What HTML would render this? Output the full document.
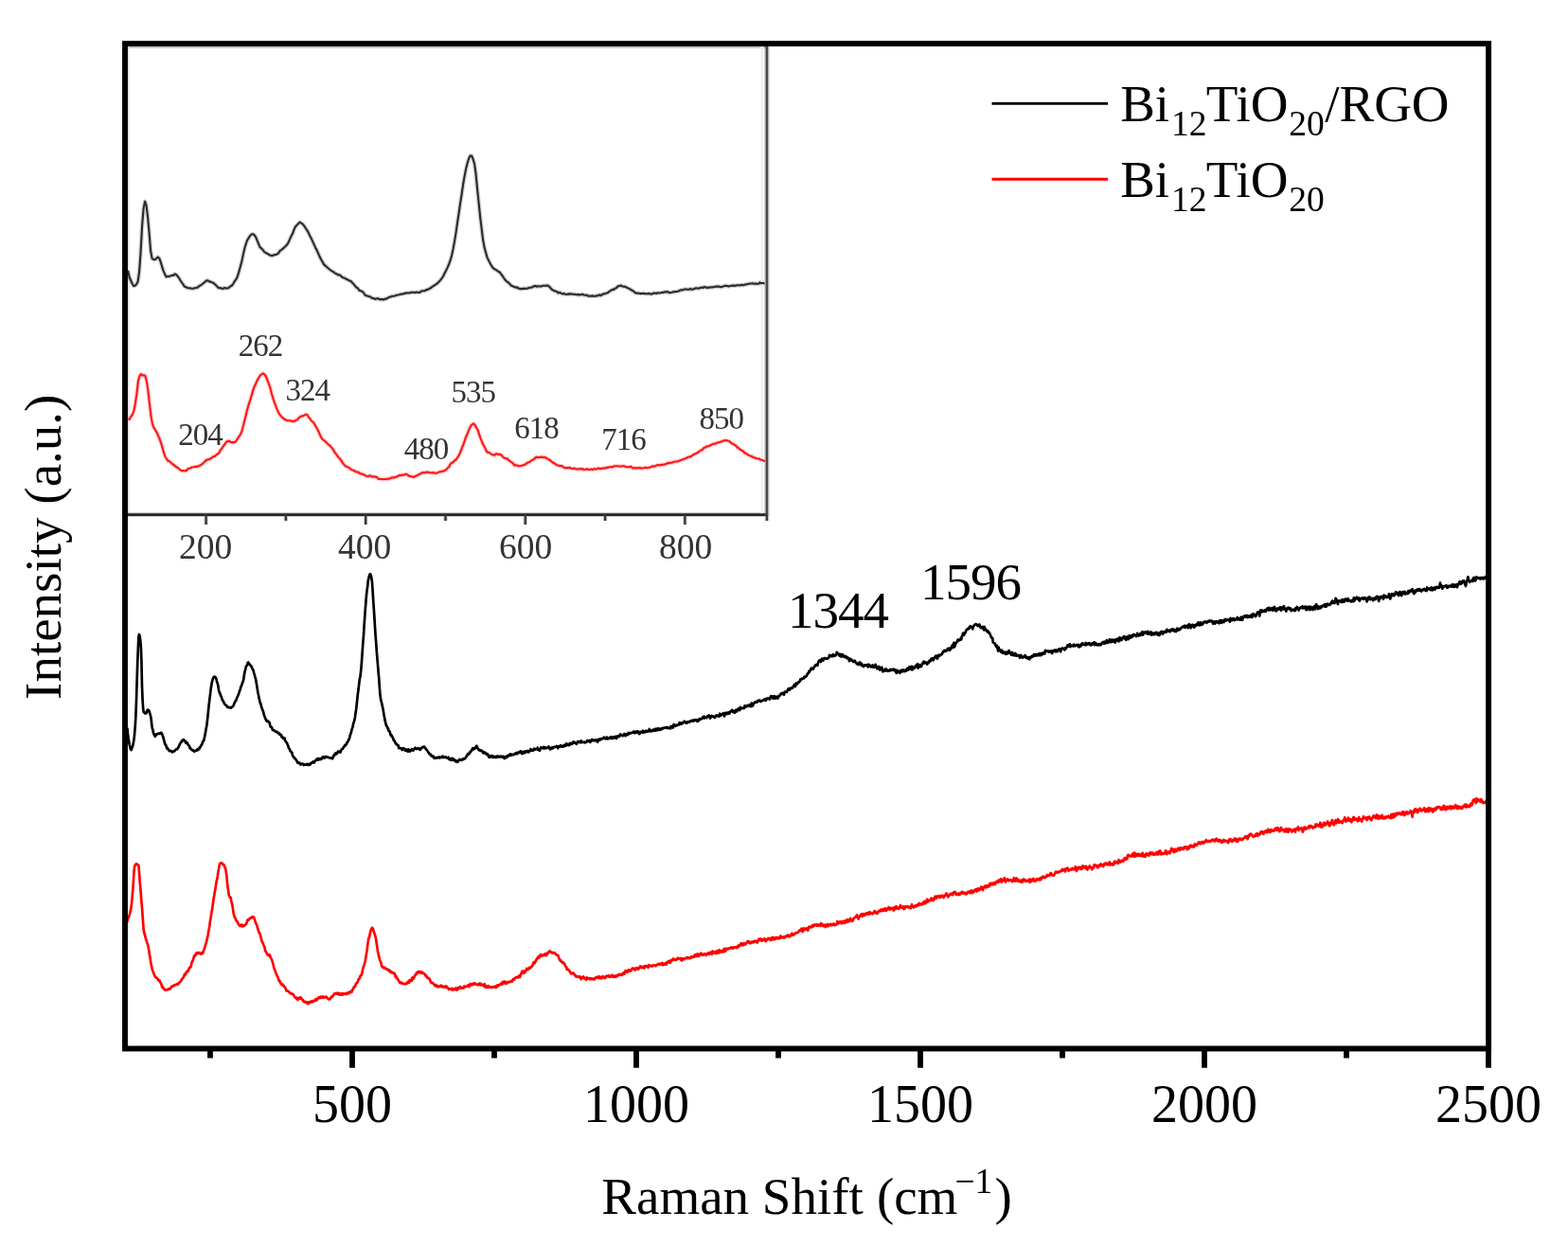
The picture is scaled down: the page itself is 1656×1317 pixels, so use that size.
<!DOCTYPE html>
<html><head><meta charset="utf-8"><title>Raman spectra</title>
<style>html,body{margin:0;padding:0;background:#fff;width:1656px;height:1317px;overflow:hidden}svg{display:block}</style>
</head><body>
<svg width="1656" height="1317" viewBox="0 0 1656 1317">
<rect width="1656" height="1317" fill="#fff"/>
<g>
<path d="M132 50.0H809" stroke="#c9c9c9" stroke-width="2.2" fill="none"/>
<path d="M135.7 46V543" stroke="#e0e0e0" stroke-width="1.6" fill="none"/>
<g fill="none" stroke-linejoin="round" opacity="0.18">
<path d="M132 543.6H810" stroke="#000" stroke-width="5"/>
<path d="M809.9 545V46" stroke="#000" stroke-width="5.6"/>
<path d="M217.6 543.6V554M386.2 543.6V554M554.8 543.6V554M723.4 543.6V554M301.9 543.6V550M470.5 543.6V550M639.1 543.6V550M809.9 543.6V550" stroke="#000" stroke-width="4.6"/>
<path d="M135.1 285.7L136.6 292.5L138.1 296.0L139.6 299.5L141.1 302.1L142.6 301.7L144.1 300.2L145.6 297.4L147.1 286.8L148.6 266.1L150.1 238.3L151.6 220.2L153.1 212.7L154.6 217.0L156.1 229.7L157.6 246.1L159.1 265.0L160.6 272.9L162.1 274.0L163.6 274.3L165.1 273.1L166.6 271.5L168.1 272.5L169.6 276.3L171.1 281.4L172.6 286.1L174.1 289.6L175.6 292.5L177.1 291.9L178.6 292.0L180.1 291.4L181.6 290.8L183.1 291.0L184.6 289.4L186.1 289.9L187.6 291.8L189.1 293.7L190.6 296.2L192.1 298.5L193.6 300.6L195.1 302.8L196.6 303.3L198.1 304.1L199.6 304.2L201.1 304.4L202.6 304.8L204.1 304.7L205.6 304.3L207.1 303.9L208.6 303.8L210.1 302.2L211.6 301.5L213.1 300.5L214.6 299.2L216.1 298.1L217.6 296.7L219.1 296.1L220.6 297.1L222.1 297.4L223.6 298.2L225.1 298.6L226.6 299.9L228.1 301.3L229.6 302.9L231.1 304.2L232.6 304.0L234.1 304.7L235.6 304.9L237.1 304.0L238.6 304.5L240.1 304.5L241.6 303.9L243.1 302.5L244.6 301.8L246.1 300.1L247.6 297.4L249.1 295.4L250.6 292.5L252.1 287.9L253.6 282.5L255.1 277.1L256.6 269.9L258.1 263.2L259.6 258.0L261.1 253.7L262.6 251.4L264.1 249.0L265.6 247.6L267.1 247.2L268.6 248.1L270.1 250.3L271.6 254.0L273.1 257.6L274.6 261.2L276.1 262.3L277.6 263.9L279.1 266.0L280.6 267.0L282.1 267.7L283.6 268.6L285.1 269.5L286.6 270.0L288.1 269.9L289.6 269.2L291.1 268.9L292.6 268.4L294.1 267.4L295.6 264.9L297.1 264.1L298.6 262.7L300.1 261.4L301.6 260.0L303.1 258.5L304.6 256.1L306.1 252.7L307.6 249.3L309.1 246.6L310.6 242.3L312.1 239.3L313.6 237.7L315.1 236.1L316.6 234.7L318.1 235.6L319.6 236.6L321.1 238.4L322.6 240.7L324.1 242.9L325.6 245.4L327.1 248.7L328.6 251.6L330.1 254.8L331.6 258.1L333.1 261.4L334.6 264.3L336.1 267.6L337.6 271.1L339.1 273.9L340.6 276.5L342.1 279.4L343.6 280.6L345.1 282.0L346.6 283.3L348.1 284.5L349.6 285.6L351.1 286.6L352.6 287.4L354.1 288.8L355.6 289.2L357.1 290.4L358.6 290.3L360.1 291.4L361.6 292.9L363.1 293.4L364.6 294.0L366.1 295.1L367.6 295.5L369.1 296.6L370.6 296.9L372.1 298.7L373.6 300.1L375.1 302.1L376.6 303.7L378.1 304.7L379.6 306.8L381.1 307.3L382.6 307.9L384.1 309.2L385.6 311.7L387.1 312.3L388.6 312.8L390.1 313.2L391.6 313.7L393.1 314.9L394.6 315.0L396.1 315.9L397.6 315.5L399.1 315.0L400.6 316.2L402.1 316.0L403.6 316.1L405.1 316.5L406.6 315.6L408.1 315.6L409.6 314.6L411.1 313.8L412.6 313.5L414.1 312.7L415.6 312.8L417.1 312.4L418.6 311.7L420.1 311.5L421.6 311.2L423.1 310.6L424.6 310.7L426.1 310.1L427.6 310.0L429.1 309.3L430.6 309.5L432.1 309.4L433.6 308.9L435.1 308.8L436.6 308.8L438.1 309.1L439.6 308.6L441.1 308.8L442.6 309.0L444.1 308.3L445.6 307.2L447.1 307.3L448.6 307.1L450.1 306.1L451.6 305.9L453.1 305.1L454.6 304.3L456.1 303.2L457.6 302.2L459.1 301.2L460.6 300.2L462.1 299.1L463.6 297.6L465.1 295.8L466.6 294.0L468.1 291.7L469.6 288.4L471.1 285.7L472.6 282.6L474.1 279.2L475.6 274.9L477.1 269.8L478.6 262.7L480.1 254.6L481.6 245.4L483.1 234.9L484.6 225.0L486.1 214.6L487.6 205.1L489.1 194.8L490.6 186.1L492.1 178.5L493.6 172.5L495.1 167.5L496.6 164.6L498.1 164.5L499.6 168.0L501.1 173.1L502.6 183.8L504.1 199.7L505.6 214.0L507.1 228.9L508.6 241.2L510.1 253.3L511.6 261.3L513.1 266.8L514.6 272.1L516.1 275.1L517.6 278.0L519.1 280.7L520.6 282.9L522.1 284.1L523.6 284.8L525.1 285.8L526.6 287.0L528.1 287.8L529.6 290.0L531.1 292.0L532.6 294.3L534.1 296.3L535.6 297.6L537.1 298.5L538.6 300.1L540.1 301.8L541.6 302.3L543.1 303.1L544.6 303.6L546.1 303.4L547.6 304.6L549.1 304.9L550.6 305.2L552.1 304.8L553.6 304.9L555.1 304.8L556.6 304.7L558.1 304.2L559.6 303.7L561.1 303.7L562.6 303.0L564.1 302.1L565.6 302.0L567.1 302.7L568.6 302.1L570.1 302.5L571.6 302.5L573.1 301.7L574.6 301.7L576.1 301.8L577.6 301.5L579.1 301.8L580.6 303.2L582.1 305.1L583.6 306.2L585.1 307.1L586.6 307.6L588.1 308.1L589.6 309.5L591.1 308.8L592.6 309.7L594.1 310.4L595.6 310.0L597.1 310.7L598.6 311.0L600.1 310.4L601.6 310.6L603.1 310.3L604.6 310.8L606.1 310.8L607.6 310.9L609.1 311.3L610.6 311.1L612.1 311.4L613.6 311.2L615.1 310.8L616.6 311.5L618.1 311.8L619.6 311.5L621.1 312.6L622.6 312.5L624.1 312.7L625.6 312.4L627.1 312.7L628.6 312.7L630.1 312.4L631.6 312.2L633.1 311.3L634.6 312.1L636.1 311.0L637.6 310.2L639.1 310.2L640.6 309.6L642.1 309.1L643.6 307.7L645.1 306.9L646.6 305.7L648.1 305.9L649.6 304.6L651.1 304.0L652.6 302.3L654.1 302.1L655.6 301.5L657.1 302.2L658.6 302.7L660.1 302.6L661.6 303.5L663.1 304.3L664.6 304.9L666.1 305.9L667.6 306.7L669.1 307.6L670.6 309.0L672.1 309.8L673.6 309.6L675.1 309.8L676.6 310.1L678.1 310.0L679.6 309.8L681.1 310.3L682.6 310.3L684.1 310.2L685.6 309.9L687.1 310.6L688.6 310.5L690.1 309.6L691.6 309.6L693.1 310.0L694.6 309.3L696.1 309.5L697.6 309.3L699.1 308.9L700.6 308.9L702.1 308.3L703.6 308.4L705.1 308.0L706.6 309.3L708.1 309.0L709.6 308.7L711.1 308.2L712.6 308.1L714.1 308.0L715.6 307.7L717.1 307.3L718.6 306.4L720.1 306.5L721.6 306.0L723.1 305.5L724.6 305.4L726.1 305.8L727.6 305.8L729.1 304.9L730.6 305.7L732.1 305.5L733.6 304.7L735.1 304.4L736.6 304.5L738.1 304.6L739.6 304.0L741.1 303.6L742.6 303.9L744.1 303.0L745.6 303.6L747.1 303.9L748.6 303.6L750.1 303.5L751.6 303.4L753.1 303.3L754.6 302.9L756.1 302.5L757.6 302.6L759.1 302.6L760.6 303.0L762.1 303.1L763.6 302.5L765.1 302.0L766.6 301.9L768.1 302.0L769.6 302.5L771.1 302.1L772.6 301.7L774.1 301.4L775.6 301.9L777.1 301.6L778.6 301.3L780.1 301.2L781.6 301.5L783.1 300.8L784.6 301.2L786.1 300.9L787.6 300.3L789.1 300.3L790.6 299.8L792.1 299.5L793.6 299.5L795.1 299.3L796.6 299.7L798.1 299.6L799.6 299.8L801.1 299.7L802.6 298.4L804.1 299.3L805.6 298.8L807.1 299.3L807.5 299.1" stroke="#000" stroke-width="4.6"/>
<path d="M135.4 442.9L136.9 442.6L138.4 439.8L139.9 437.7L141.4 434.0L142.9 425.7L144.4 416.1L145.9 402.4L147.4 397.3L148.9 395.1L150.4 396.4L151.9 396.2L153.4 397.1L154.9 402.8L156.4 412.9L157.9 426.3L159.4 438.8L160.9 447.6L162.4 451.7L163.9 453.9L165.4 456.4L166.9 459.7L168.4 463.2L169.9 467.3L171.4 472.2L172.9 477.7L174.4 482.2L175.9 484.5L177.4 486.7L178.9 487.1L180.4 488.6L181.9 490.0L183.4 490.7L184.9 492.2L186.4 493.3L187.9 494.1L189.4 495.5L190.9 496.6L192.4 497.3L193.9 497.1L195.4 497.1L196.9 497.1L198.4 495.2L199.9 494.7L201.4 494.2L202.9 493.5L204.4 493.3L205.9 492.9L207.4 492.9L208.9 492.7L210.4 491.8L211.9 491.3L213.4 490.2L214.9 488.8L216.4 487.5L217.9 485.8L219.4 485.4L220.9 485.0L222.4 484.3L223.9 483.4L225.4 482.1L226.9 482.0L228.4 480.4L229.9 479.4L231.4 478.2L232.9 475.1L234.4 473.4L235.9 471.2L237.4 469.1L238.9 466.9L240.4 466.0L241.9 465.7L243.4 466.7L244.9 467.4L246.4 467.1L247.9 467.1L249.4 465.7L250.9 463.3L252.4 461.0L253.9 458.8L255.4 455.3L256.9 449.7L258.4 443.5L259.9 437.8L261.4 431.6L262.9 426.4L264.4 422.2L265.9 417.1L267.4 411.6L268.9 407.7L270.4 404.7L271.9 401.1L273.4 398.8L274.9 396.4L276.4 395.2L277.9 394.4L279.4 395.5L280.9 397.5L282.4 401.3L283.9 405.5L285.4 409.7L286.9 415.7L288.4 420.8L289.9 425.1L291.4 429.4L292.9 433.1L294.4 436.3L295.9 438.3L297.4 440.2L298.9 441.6L300.4 442.7L301.9 443.5L303.4 444.1L304.9 444.2L306.4 444.3L307.9 444.9L309.4 444.8L310.9 444.9L312.4 443.8L313.9 443.3L315.4 441.5L316.9 440.2L318.4 439.5L319.9 439.4L321.4 438.6L322.9 437.7L324.4 438.2L325.9 440.3L327.4 442.1L328.9 444.5L330.4 445.5L331.9 447.4L333.4 450.2L334.9 452.8L336.4 455.8L337.9 459.1L339.4 462.4L340.9 463.9L342.4 465.4L343.9 466.4L345.4 468.2L346.9 469.6L348.4 470.5L349.9 472.4L351.4 474.1L352.9 476.9L354.4 478.9L355.9 480.8L357.4 482.9L358.9 484.5L360.4 486.4L361.9 488.9L363.4 490.8L364.9 492.4L366.4 492.8L367.9 493.7L369.4 494.4L370.9 495.9L372.4 496.5L373.9 496.9L375.4 498.1L376.9 498.6L378.4 498.5L379.9 499.9L381.4 500.4L382.9 500.7L384.4 501.2L385.9 502.4L387.4 502.8L388.9 503.1L390.4 502.3L391.9 502.8L393.4 503.6L394.9 503.2L396.4 503.6L397.9 503.9L399.4 505.6L400.9 505.9L402.4 506.0L403.9 506.2L405.4 506.0L406.9 506.0L408.4 506.1L409.9 505.5L411.4 505.7L412.9 504.8L414.4 504.2L415.9 504.6L417.4 503.8L418.9 503.6L420.4 502.8L421.9 501.8L423.4 502.2L424.9 501.4L426.4 501.8L427.9 500.8L429.4 500.8L430.9 502.0L432.4 502.8L433.9 503.2L435.4 503.3L436.9 504.0L438.4 503.0L439.9 502.5L441.4 501.6L442.9 500.8L444.4 500.3L445.9 499.1L447.4 499.2L448.9 499.2L450.4 498.5L451.9 498.7L453.4 499.1L454.9 499.2L456.4 499.5L457.9 498.9L459.4 499.8L460.9 499.7L462.4 499.1L463.9 498.4L465.4 498.4L466.9 497.8L468.4 497.6L469.9 496.8L471.4 495.9L472.9 494.1L474.4 492.8L475.9 489.8L477.4 488.7L478.9 487.9L480.4 486.0L481.9 485.2L483.4 482.9L484.9 480.7L486.4 477.0L487.9 473.1L489.4 469.3L490.9 465.1L492.4 460.7L493.9 457.4L495.4 453.6L496.9 450.3L498.4 448.5L499.9 447.4L501.4 448.5L502.9 451.4L504.4 453.7L505.9 458.1L507.4 462.6L508.9 466.3L510.4 469.8L511.9 472.2L513.4 475.7L514.9 477.9L516.4 477.8L517.9 479.0L519.4 480.0L520.9 480.5L522.4 480.6L523.9 479.3L525.4 479.6L526.9 479.9L528.4 479.7L529.9 481.0L531.4 482.8L532.9 483.7L534.4 484.4L535.9 484.4L537.4 486.1L538.9 487.3L540.4 488.2L541.9 489.5L543.4 491.5L544.9 491.2L546.4 491.5L547.9 492.2L549.4 492.0L550.9 491.7L552.4 491.3L553.9 490.9L555.4 490.0L556.9 488.8L558.4 488.3L559.9 487.6L561.4 486.2L562.9 485.6L564.4 484.4L565.9 482.9L567.4 482.7L568.9 483.0L570.4 482.9L571.9 482.6L573.4 483.1L574.9 483.0L576.4 483.2L577.9 484.4L579.4 485.1L580.9 486.2L582.4 487.3L583.9 488.5L585.4 489.3L586.9 490.4L588.4 491.2L589.9 491.5L591.4 492.2L592.9 491.9L594.4 492.7L595.9 494.0L597.4 494.4L598.9 494.1L600.4 494.1L601.9 493.9L603.4 494.7L604.9 495.0L606.4 494.5L607.9 495.2L609.4 495.4L610.9 495.5L612.4 495.1L613.9 495.6L615.4 495.1L616.9 496.1L618.4 495.7L619.9 495.2L621.4 496.0L622.9 496.0L624.4 495.4L625.9 496.1L627.4 495.1L628.9 495.4L630.4 495.5L631.9 494.3L633.4 495.2L634.9 494.9L636.4 494.7L637.9 494.3L639.4 494.5L640.9 493.9L642.4 493.6L643.9 493.5L645.4 493.0L646.9 493.5L648.4 492.3L649.9 492.2L651.4 492.2L652.9 492.2L654.4 492.5L655.9 492.6L657.4 492.3L658.9 492.3L660.4 492.7L661.9 493.2L663.4 493.3L664.9 493.0L666.4 492.8L667.9 494.4L669.4 494.4L670.9 494.3L672.4 494.4L673.9 494.2L675.4 494.1L676.9 494.4L678.4 494.5L679.9 494.2L681.4 493.8L682.9 494.1L684.4 494.2L685.9 493.6L687.4 493.3L688.9 492.3L690.4 492.6L691.9 492.3L693.4 491.6L694.9 491.1L696.4 491.5L697.9 490.9L699.4 491.0L700.9 490.5L702.4 490.4L703.9 489.7L705.4 489.0L706.9 489.1L708.4 488.7L709.9 488.6L711.4 487.9L712.9 487.5L714.4 487.5L715.9 487.2L717.4 486.6L718.9 486.1L720.4 485.4L721.9 485.0L723.4 484.4L724.9 483.7L726.4 482.9L727.9 482.4L729.4 482.5L730.9 481.1L732.4 480.2L733.9 479.4L735.4 478.8L736.9 478.0L738.4 476.7L739.9 475.5L741.4 475.2L742.9 473.5L744.4 472.8L745.9 471.7L747.4 471.4L748.9 471.0L750.4 470.2L751.9 469.4L753.4 468.8L754.9 468.6L756.4 468.4L757.9 467.2L759.4 467.2L760.9 466.6L762.4 466.3L763.9 465.5L765.4 465.3L766.9 465.1L768.4 465.5L769.9 465.7L771.4 467.1L772.9 468.4L774.4 469.0L775.9 470.0L777.4 470.9L778.9 472.8L780.4 473.4L781.9 474.9L783.4 475.7L784.9 476.5L786.4 478.2L787.9 479.0L789.4 480.0L790.9 480.9L792.4 481.5L793.9 482.0L795.4 482.9L796.9 483.3L798.4 484.0L799.9 484.3L801.4 484.5L802.9 485.2L804.4 485.7L805.9 486.3L807.4 486.8L807.5 485.9" stroke="#ff0000" stroke-width="4.6"/>
</g>
<path d="M804.8 46V543" stroke="#efefef" stroke-width="2.6" fill="none"/>
<path d="M132 543.6H810" fill="none" stroke="#262626" stroke-width="2.6"/>
<path d="M809.9 545V46" fill="none" stroke="#4a4a4a" stroke-width="2.6"/>
<path d="M217.6 543.6V554M386.2 543.6V554M554.8 543.6V554M723.4 543.6V554M301.9 543.6V550M470.5 543.6V550M639.1 543.6V550M809.9 543.6V550" stroke="#3a3a3a" stroke-width="2.4" fill="none"/>
<path d="M135.1 285.7L136.6 292.5L138.1 296.0L139.6 299.5L141.1 302.1L142.6 301.7L144.1 300.2L145.6 297.4L147.1 286.8L148.6 266.1L150.1 238.3L151.6 220.2L153.1 212.7L154.6 217.0L156.1 229.7L157.6 246.1L159.1 265.0L160.6 272.9L162.1 274.0L163.6 274.3L165.1 273.1L166.6 271.5L168.1 272.5L169.6 276.3L171.1 281.4L172.6 286.1L174.1 289.6L175.6 292.5L177.1 291.9L178.6 292.0L180.1 291.4L181.6 290.8L183.1 291.0L184.6 289.4L186.1 289.9L187.6 291.8L189.1 293.7L190.6 296.2L192.1 298.5L193.6 300.6L195.1 302.8L196.6 303.3L198.1 304.1L199.6 304.2L201.1 304.4L202.6 304.8L204.1 304.7L205.6 304.3L207.1 303.9L208.6 303.8L210.1 302.2L211.6 301.5L213.1 300.5L214.6 299.2L216.1 298.1L217.6 296.7L219.1 296.1L220.6 297.1L222.1 297.4L223.6 298.2L225.1 298.6L226.6 299.9L228.1 301.3L229.6 302.9L231.1 304.2L232.6 304.0L234.1 304.7L235.6 304.9L237.1 304.0L238.6 304.5L240.1 304.5L241.6 303.9L243.1 302.5L244.6 301.8L246.1 300.1L247.6 297.4L249.1 295.4L250.6 292.5L252.1 287.9L253.6 282.5L255.1 277.1L256.6 269.9L258.1 263.2L259.6 258.0L261.1 253.7L262.6 251.4L264.1 249.0L265.6 247.6L267.1 247.2L268.6 248.1L270.1 250.3L271.6 254.0L273.1 257.6L274.6 261.2L276.1 262.3L277.6 263.9L279.1 266.0L280.6 267.0L282.1 267.7L283.6 268.6L285.1 269.5L286.6 270.0L288.1 269.9L289.6 269.2L291.1 268.9L292.6 268.4L294.1 267.4L295.6 264.9L297.1 264.1L298.6 262.7L300.1 261.4L301.6 260.0L303.1 258.5L304.6 256.1L306.1 252.7L307.6 249.3L309.1 246.6L310.6 242.3L312.1 239.3L313.6 237.7L315.1 236.1L316.6 234.7L318.1 235.6L319.6 236.6L321.1 238.4L322.6 240.7L324.1 242.9L325.6 245.4L327.1 248.7L328.6 251.6L330.1 254.8L331.6 258.1L333.1 261.4L334.6 264.3L336.1 267.6L337.6 271.1L339.1 273.9L340.6 276.5L342.1 279.4L343.6 280.6L345.1 282.0L346.6 283.3L348.1 284.5L349.6 285.6L351.1 286.6L352.6 287.4L354.1 288.8L355.6 289.2L357.1 290.4L358.6 290.3L360.1 291.4L361.6 292.9L363.1 293.4L364.6 294.0L366.1 295.1L367.6 295.5L369.1 296.6L370.6 296.9L372.1 298.7L373.6 300.1L375.1 302.1L376.6 303.7L378.1 304.7L379.6 306.8L381.1 307.3L382.6 307.9L384.1 309.2L385.6 311.7L387.1 312.3L388.6 312.8L390.1 313.2L391.6 313.7L393.1 314.9L394.6 315.0L396.1 315.9L397.6 315.5L399.1 315.0L400.6 316.2L402.1 316.0L403.6 316.1L405.1 316.5L406.6 315.6L408.1 315.6L409.6 314.6L411.1 313.8L412.6 313.5L414.1 312.7L415.6 312.8L417.1 312.4L418.6 311.7L420.1 311.5L421.6 311.2L423.1 310.6L424.6 310.7L426.1 310.1L427.6 310.0L429.1 309.3L430.6 309.5L432.1 309.4L433.6 308.9L435.1 308.8L436.6 308.8L438.1 309.1L439.6 308.6L441.1 308.8L442.6 309.0L444.1 308.3L445.6 307.2L447.1 307.3L448.6 307.1L450.1 306.1L451.6 305.9L453.1 305.1L454.6 304.3L456.1 303.2L457.6 302.2L459.1 301.2L460.6 300.2L462.1 299.1L463.6 297.6L465.1 295.8L466.6 294.0L468.1 291.7L469.6 288.4L471.1 285.7L472.6 282.6L474.1 279.2L475.6 274.9L477.1 269.8L478.6 262.7L480.1 254.6L481.6 245.4L483.1 234.9L484.6 225.0L486.1 214.6L487.6 205.1L489.1 194.8L490.6 186.1L492.1 178.5L493.6 172.5L495.1 167.5L496.6 164.6L498.1 164.5L499.6 168.0L501.1 173.1L502.6 183.8L504.1 199.7L505.6 214.0L507.1 228.9L508.6 241.2L510.1 253.3L511.6 261.3L513.1 266.8L514.6 272.1L516.1 275.1L517.6 278.0L519.1 280.7L520.6 282.9L522.1 284.1L523.6 284.8L525.1 285.8L526.6 287.0L528.1 287.8L529.6 290.0L531.1 292.0L532.6 294.3L534.1 296.3L535.6 297.6L537.1 298.5L538.6 300.1L540.1 301.8L541.6 302.3L543.1 303.1L544.6 303.6L546.1 303.4L547.6 304.6L549.1 304.9L550.6 305.2L552.1 304.8L553.6 304.9L555.1 304.8L556.6 304.7L558.1 304.2L559.6 303.7L561.1 303.7L562.6 303.0L564.1 302.1L565.6 302.0L567.1 302.7L568.6 302.1L570.1 302.5L571.6 302.5L573.1 301.7L574.6 301.7L576.1 301.8L577.6 301.5L579.1 301.8L580.6 303.2L582.1 305.1L583.6 306.2L585.1 307.1L586.6 307.6L588.1 308.1L589.6 309.5L591.1 308.8L592.6 309.7L594.1 310.4L595.6 310.0L597.1 310.7L598.6 311.0L600.1 310.4L601.6 310.6L603.1 310.3L604.6 310.8L606.1 310.8L607.6 310.9L609.1 311.3L610.6 311.1L612.1 311.4L613.6 311.2L615.1 310.8L616.6 311.5L618.1 311.8L619.6 311.5L621.1 312.6L622.6 312.5L624.1 312.7L625.6 312.4L627.1 312.7L628.6 312.7L630.1 312.4L631.6 312.2L633.1 311.3L634.6 312.1L636.1 311.0L637.6 310.2L639.1 310.2L640.6 309.6L642.1 309.1L643.6 307.7L645.1 306.9L646.6 305.7L648.1 305.9L649.6 304.6L651.1 304.0L652.6 302.3L654.1 302.1L655.6 301.5L657.1 302.2L658.6 302.7L660.1 302.6L661.6 303.5L663.1 304.3L664.6 304.9L666.1 305.9L667.6 306.7L669.1 307.6L670.6 309.0L672.1 309.8L673.6 309.6L675.1 309.8L676.6 310.1L678.1 310.0L679.6 309.8L681.1 310.3L682.6 310.3L684.1 310.2L685.6 309.9L687.1 310.6L688.6 310.5L690.1 309.6L691.6 309.6L693.1 310.0L694.6 309.3L696.1 309.5L697.6 309.3L699.1 308.9L700.6 308.9L702.1 308.3L703.6 308.4L705.1 308.0L706.6 309.3L708.1 309.0L709.6 308.7L711.1 308.2L712.6 308.1L714.1 308.0L715.6 307.7L717.1 307.3L718.6 306.4L720.1 306.5L721.6 306.0L723.1 305.5L724.6 305.4L726.1 305.8L727.6 305.8L729.1 304.9L730.6 305.7L732.1 305.5L733.6 304.7L735.1 304.4L736.6 304.5L738.1 304.6L739.6 304.0L741.1 303.6L742.6 303.9L744.1 303.0L745.6 303.6L747.1 303.9L748.6 303.6L750.1 303.5L751.6 303.4L753.1 303.3L754.6 302.9L756.1 302.5L757.6 302.6L759.1 302.6L760.6 303.0L762.1 303.1L763.6 302.5L765.1 302.0L766.6 301.9L768.1 302.0L769.6 302.5L771.1 302.1L772.6 301.7L774.1 301.4L775.6 301.9L777.1 301.6L778.6 301.3L780.1 301.2L781.6 301.5L783.1 300.8L784.6 301.2L786.1 300.9L787.6 300.3L789.1 300.3L790.6 299.8L792.1 299.5L793.6 299.5L795.1 299.3L796.6 299.7L798.1 299.6L799.6 299.8L801.1 299.7L802.6 298.4L804.1 299.3L805.6 298.8L807.1 299.3L807.5 299.1" fill="none" stroke="#2a2a2a" stroke-width="2.1" stroke-linejoin="round"/>
<path d="M135.4 442.9L136.9 442.6L138.4 439.8L139.9 437.7L141.4 434.0L142.9 425.7L144.4 416.1L145.9 402.4L147.4 397.3L148.9 395.1L150.4 396.4L151.9 396.2L153.4 397.1L154.9 402.8L156.4 412.9L157.9 426.3L159.4 438.8L160.9 447.6L162.4 451.7L163.9 453.9L165.4 456.4L166.9 459.7L168.4 463.2L169.9 467.3L171.4 472.2L172.9 477.7L174.4 482.2L175.9 484.5L177.4 486.7L178.9 487.1L180.4 488.6L181.9 490.0L183.4 490.7L184.9 492.2L186.4 493.3L187.9 494.1L189.4 495.5L190.9 496.6L192.4 497.3L193.9 497.1L195.4 497.1L196.9 497.1L198.4 495.2L199.9 494.7L201.4 494.2L202.9 493.5L204.4 493.3L205.9 492.9L207.4 492.9L208.9 492.7L210.4 491.8L211.9 491.3L213.4 490.2L214.9 488.8L216.4 487.5L217.9 485.8L219.4 485.4L220.9 485.0L222.4 484.3L223.9 483.4L225.4 482.1L226.9 482.0L228.4 480.4L229.9 479.4L231.4 478.2L232.9 475.1L234.4 473.4L235.9 471.2L237.4 469.1L238.9 466.9L240.4 466.0L241.9 465.7L243.4 466.7L244.9 467.4L246.4 467.1L247.9 467.1L249.4 465.7L250.9 463.3L252.4 461.0L253.9 458.8L255.4 455.3L256.9 449.7L258.4 443.5L259.9 437.8L261.4 431.6L262.9 426.4L264.4 422.2L265.9 417.1L267.4 411.6L268.9 407.7L270.4 404.7L271.9 401.1L273.4 398.8L274.9 396.4L276.4 395.2L277.9 394.4L279.4 395.5L280.9 397.5L282.4 401.3L283.9 405.5L285.4 409.7L286.9 415.7L288.4 420.8L289.9 425.1L291.4 429.4L292.9 433.1L294.4 436.3L295.9 438.3L297.4 440.2L298.9 441.6L300.4 442.7L301.9 443.5L303.4 444.1L304.9 444.2L306.4 444.3L307.9 444.9L309.4 444.8L310.9 444.9L312.4 443.8L313.9 443.3L315.4 441.5L316.9 440.2L318.4 439.5L319.9 439.4L321.4 438.6L322.9 437.7L324.4 438.2L325.9 440.3L327.4 442.1L328.9 444.5L330.4 445.5L331.9 447.4L333.4 450.2L334.9 452.8L336.4 455.8L337.9 459.1L339.4 462.4L340.9 463.9L342.4 465.4L343.9 466.4L345.4 468.2L346.9 469.6L348.4 470.5L349.9 472.4L351.4 474.1L352.9 476.9L354.4 478.9L355.9 480.8L357.4 482.9L358.9 484.5L360.4 486.4L361.9 488.9L363.4 490.8L364.9 492.4L366.4 492.8L367.9 493.7L369.4 494.4L370.9 495.9L372.4 496.5L373.9 496.9L375.4 498.1L376.9 498.6L378.4 498.5L379.9 499.9L381.4 500.4L382.9 500.7L384.4 501.2L385.9 502.4L387.4 502.8L388.9 503.1L390.4 502.3L391.9 502.8L393.4 503.6L394.9 503.2L396.4 503.6L397.9 503.9L399.4 505.6L400.9 505.9L402.4 506.0L403.9 506.2L405.4 506.0L406.9 506.0L408.4 506.1L409.9 505.5L411.4 505.7L412.9 504.8L414.4 504.2L415.9 504.6L417.4 503.8L418.9 503.6L420.4 502.8L421.9 501.8L423.4 502.2L424.9 501.4L426.4 501.8L427.9 500.8L429.4 500.8L430.9 502.0L432.4 502.8L433.9 503.2L435.4 503.3L436.9 504.0L438.4 503.0L439.9 502.5L441.4 501.6L442.9 500.8L444.4 500.3L445.9 499.1L447.4 499.2L448.9 499.2L450.4 498.5L451.9 498.7L453.4 499.1L454.9 499.2L456.4 499.5L457.9 498.9L459.4 499.8L460.9 499.7L462.4 499.1L463.9 498.4L465.4 498.4L466.9 497.8L468.4 497.6L469.9 496.8L471.4 495.9L472.9 494.1L474.4 492.8L475.9 489.8L477.4 488.7L478.9 487.9L480.4 486.0L481.9 485.2L483.4 482.9L484.9 480.7L486.4 477.0L487.9 473.1L489.4 469.3L490.9 465.1L492.4 460.7L493.9 457.4L495.4 453.6L496.9 450.3L498.4 448.5L499.9 447.4L501.4 448.5L502.9 451.4L504.4 453.7L505.9 458.1L507.4 462.6L508.9 466.3L510.4 469.8L511.9 472.2L513.4 475.7L514.9 477.9L516.4 477.8L517.9 479.0L519.4 480.0L520.9 480.5L522.4 480.6L523.9 479.3L525.4 479.6L526.9 479.9L528.4 479.7L529.9 481.0L531.4 482.8L532.9 483.7L534.4 484.4L535.9 484.4L537.4 486.1L538.9 487.3L540.4 488.2L541.9 489.5L543.4 491.5L544.9 491.2L546.4 491.5L547.9 492.2L549.4 492.0L550.9 491.7L552.4 491.3L553.9 490.9L555.4 490.0L556.9 488.8L558.4 488.3L559.9 487.6L561.4 486.2L562.9 485.6L564.4 484.4L565.9 482.9L567.4 482.7L568.9 483.0L570.4 482.9L571.9 482.6L573.4 483.1L574.9 483.0L576.4 483.2L577.9 484.4L579.4 485.1L580.9 486.2L582.4 487.3L583.9 488.5L585.4 489.3L586.9 490.4L588.4 491.2L589.9 491.5L591.4 492.2L592.9 491.9L594.4 492.7L595.9 494.0L597.4 494.4L598.9 494.1L600.4 494.1L601.9 493.9L603.4 494.7L604.9 495.0L606.4 494.5L607.9 495.2L609.4 495.4L610.9 495.5L612.4 495.1L613.9 495.6L615.4 495.1L616.9 496.1L618.4 495.7L619.9 495.2L621.4 496.0L622.9 496.0L624.4 495.4L625.9 496.1L627.4 495.1L628.9 495.4L630.4 495.5L631.9 494.3L633.4 495.2L634.9 494.9L636.4 494.7L637.9 494.3L639.4 494.5L640.9 493.9L642.4 493.6L643.9 493.5L645.4 493.0L646.9 493.5L648.4 492.3L649.9 492.2L651.4 492.2L652.9 492.2L654.4 492.5L655.9 492.6L657.4 492.3L658.9 492.3L660.4 492.7L661.9 493.2L663.4 493.3L664.9 493.0L666.4 492.8L667.9 494.4L669.4 494.4L670.9 494.3L672.4 494.4L673.9 494.2L675.4 494.1L676.9 494.4L678.4 494.5L679.9 494.2L681.4 493.8L682.9 494.1L684.4 494.2L685.9 493.6L687.4 493.3L688.9 492.3L690.4 492.6L691.9 492.3L693.4 491.6L694.9 491.1L696.4 491.5L697.9 490.9L699.4 491.0L700.9 490.5L702.4 490.4L703.9 489.7L705.4 489.0L706.9 489.1L708.4 488.7L709.9 488.6L711.4 487.9L712.9 487.5L714.4 487.5L715.9 487.2L717.4 486.6L718.9 486.1L720.4 485.4L721.9 485.0L723.4 484.4L724.9 483.7L726.4 482.9L727.9 482.4L729.4 482.5L730.9 481.1L732.4 480.2L733.9 479.4L735.4 478.8L736.9 478.0L738.4 476.7L739.9 475.5L741.4 475.2L742.9 473.5L744.4 472.8L745.9 471.7L747.4 471.4L748.9 471.0L750.4 470.2L751.9 469.4L753.4 468.8L754.9 468.6L756.4 468.4L757.9 467.2L759.4 467.2L760.9 466.6L762.4 466.3L763.9 465.5L765.4 465.3L766.9 465.1L768.4 465.5L769.9 465.7L771.4 467.1L772.9 468.4L774.4 469.0L775.9 470.0L777.4 470.9L778.9 472.8L780.4 473.4L781.9 474.9L783.4 475.7L784.9 476.5L786.4 478.2L787.9 479.0L789.4 480.0L790.9 480.9L792.4 481.5L793.9 482.0L795.4 482.9L796.9 483.3L798.4 484.0L799.9 484.3L801.4 484.5L802.9 485.2L804.4 485.7L805.9 486.3L807.4 486.8L807.5 485.9" fill="none" stroke="#ff1414" stroke-width="2.1" stroke-linejoin="round"/>
<g style="font-family:'Liberation Serif','Times New Roman',serif;font-size:37.5px" fill="#333" text-anchor="middle">
<text x="217.2" y="589.6">200</text>
<text x="385.2" y="589.6">400</text>
<text x="555.0" y="589.6">600</text>
<text x="724.1" y="589.6">800</text>
</g>
<g style="font-family:'Liberation Serif','Times New Roman',serif;font-size:33px;letter-spacing:-1px" fill="#333" text-anchor="middle">
<text x="274.9" y="375.8">262</text>
<text x="324.8" y="423.2">324</text>
<text x="211.4" y="470.0">204</text>
<text x="450.1" y="484.6">480</text>
<text x="499.7" y="425.4">535</text>
<text x="566.6" y="463.3">618</text>
<text x="658.6" y="475.4">716</text>
<text x="761.8" y="452.8">850</text>
</g>
</g>
<path d="M134.4 768.6L135.0 774.7L135.6 779.5L136.2 783.4L136.8 786.8L137.4 789.0L138.0 791.0L138.6 792.1L139.2 790.6L139.8 788.9L140.4 787.0L141.0 783.9L141.6 780.1L142.2 774.5L142.8 766.5L143.4 756.2L144.0 740.3L144.6 720.2L145.2 700.7L145.8 685.6L146.4 672.4L147.0 670.0L147.6 671.7L148.2 676.5L148.8 682.5L149.4 697.2L150.0 724.8L150.6 739.4L151.2 748.8L151.8 752.3L152.4 752.3L153.0 753.3L153.6 753.4L154.2 753.4L154.8 752.9L155.4 750.4L156.0 749.6L156.6 750.1L157.2 750.3L157.8 751.8L158.4 753.8L159.0 755.8L159.6 758.9L160.2 764.6L160.8 769.2L161.4 770.6L162.0 774.0L162.6 775.6L163.2 776.5L163.8 777.8L164.4 776.9L165.0 775.4L165.6 775.4L166.2 775.3L166.8 774.8L167.4 775.0L168.0 774.5L168.6 774.7L169.2 774.9L169.8 773.9L170.4 774.1L171.0 774.6L171.6 776.4L172.2 777.9L172.8 780.3L173.4 782.6L174.0 784.8L174.6 786.5L175.2 786.9L175.8 788.6L176.4 790.5L177.0 790.2L177.6 791.3L178.2 792.1L178.8 793.2L179.4 793.2L180.0 792.9L180.6 793.1L181.2 793.4L181.8 794.4L182.4 793.5L183.0 793.5L183.6 793.7L184.2 793.2L184.8 792.7L185.4 791.8L186.0 791.7L186.6 791.0L187.2 791.2L187.8 790.3L188.4 789.2L189.0 788.2L189.6 786.4L190.2 785.7L190.8 784.3L191.4 783.9L192.0 782.5L192.6 782.7L193.2 781.4L193.8 781.1L194.4 782.0L195.0 782.1L195.6 783.1L196.2 784.6L196.8 783.7L197.4 784.3L198.0 785.6L198.6 786.5L199.2 786.9L199.8 787.8L200.4 789.5L201.0 790.6L201.6 790.7L202.2 791.6L202.8 792.1L203.4 792.0L204.0 792.9L204.6 792.7L205.2 793.7L205.8 793.4L206.4 793.1L207.0 792.7L207.6 792.6L208.2 791.5L208.8 791.7L209.4 792.1L210.0 790.4L210.6 790.8L211.2 788.8L211.8 788.8L212.4 787.2L213.0 786.9L213.6 785.3L214.2 783.2L214.8 783.1L215.4 781.6L216.0 778.7L216.6 775.8L217.2 772.6L217.8 768.8L218.4 765.9L219.0 760.4L219.6 755.0L220.2 748.9L220.8 743.4L221.4 738.1L222.0 733.8L222.6 728.1L223.2 724.2L223.8 720.9L224.4 718.3L225.0 716.6L225.6 715.2L226.2 714.8L226.8 714.7L227.4 715.4L228.0 715.9L228.6 717.7L229.2 720.5L229.8 721.7L230.4 724.5L231.0 728.5L231.6 731.3L232.2 731.8L232.8 733.9L233.4 735.3L234.0 736.2L234.6 738.8L235.2 739.8L235.8 740.8L236.4 741.6L237.0 743.2L237.6 743.7L238.2 744.6L238.8 744.8L239.4 745.3L240.0 746.9L240.6 746.5L241.2 747.1L241.8 747.2L242.4 747.1L243.0 747.3L243.6 747.9L244.2 747.3L244.8 746.9L245.4 746.4L246.0 746.1L246.6 744.9L247.2 743.6L247.8 742.0L248.4 740.5L249.0 740.4L249.6 739.0L250.2 736.9L250.8 735.8L251.4 734.5L252.0 733.0L252.6 731.4L253.2 729.1L253.8 728.3L254.4 725.3L255.0 724.4L255.6 722.5L256.2 720.7L256.8 719.2L257.4 716.6L258.0 712.3L258.6 708.9L259.2 707.3L259.8 704.1L260.4 703.3L261.0 702.6L261.6 700.3L262.2 699.5L262.8 700.9L263.4 701.3L264.0 701.9L264.6 703.0L265.2 703.5L265.8 704.2L266.4 706.0L267.0 706.9L267.6 708.1L268.2 710.9L268.8 712.6L269.4 714.8L270.0 716.8L270.6 720.2L271.2 723.7L271.8 727.6L272.4 731.5L273.0 734.0L273.6 737.2L274.2 739.8L274.8 742.8L275.4 743.2L276.0 746.3L276.6 747.9L277.2 749.7L277.8 750.8L278.4 753.2L279.0 755.7L279.6 757.0L280.2 758.6L280.8 759.8L281.4 761.6L282.0 761.7L282.6 761.1L283.2 762.4L283.8 762.4L284.4 762.5L285.0 765.0L285.6 767.3L286.2 767.7L286.8 768.0L287.4 769.1L288.0 771.0L288.6 771.1L289.2 771.3L289.8 771.6L290.4 772.0L291.0 772.8L291.6 773.0L292.2 773.1L292.8 772.8L293.4 774.0L294.0 774.0L294.6 775.3L295.2 774.6L295.8 775.6L296.4 776.2L297.0 776.2L297.6 778.5L298.2 779.1L298.8 778.7L299.4 780.1L300.0 780.5L300.6 779.7L301.2 782.1L301.8 783.1L302.4 784.1L303.0 784.5L303.6 786.1L304.2 787.6L304.8 789.7L305.4 790.5L306.0 791.5L306.6 793.4L307.2 793.5L307.8 794.4L308.4 794.9L309.0 797.9L309.6 798.8L310.2 799.7L310.8 800.4L311.4 800.9L312.0 801.8L312.6 802.3L313.2 803.2L313.8 804.2L314.4 805.7L315.0 805.8L315.6 805.7L316.2 805.6L316.8 806.0L317.4 807.4L318.0 807.1L318.6 806.9L319.2 806.7L319.8 806.5L320.4 807.3L321.0 808.0L321.6 807.4L322.2 807.5L322.8 807.6L323.4 807.7L324.0 806.8L324.6 807.5L325.2 807.2L325.8 808.0L326.4 806.9L327.0 807.4L327.6 807.7L328.2 806.2L328.8 805.6L329.4 805.7L330.0 805.3L330.6 804.4L331.2 805.0L331.8 805.6L332.4 804.0L333.0 803.4L333.6 802.6L334.2 802.8L334.8 801.6L335.4 801.4L336.0 802.5L336.6 801.2L337.2 802.1L337.8 802.2L338.4 801.2L339.0 801.2L339.6 801.8L340.2 800.3L340.8 799.7L341.4 799.1L342.0 799.9L342.6 800.7L343.2 800.3L343.8 799.0L344.4 799.0L345.0 799.3L345.6 799.9L346.2 799.8L346.8 800.1L347.4 800.3L348.0 800.1L348.6 800.4L349.2 800.6L349.8 800.5L350.4 800.8L351.0 801.3L351.6 800.1L352.2 799.0L352.8 797.3L353.4 797.6L354.0 795.7L354.6 795.4L355.2 796.4L355.8 796.0L356.4 794.9L357.0 793.6L357.6 794.0L358.2 793.7L358.8 794.2L359.4 794.8L360.0 793.1L360.6 791.8L361.2 791.0L361.8 791.0L362.4 790.1L363.0 788.7L363.6 788.4L364.2 786.9L364.8 787.4L365.4 786.6L366.0 785.7L366.6 784.0L367.2 783.6L367.8 782.4L368.4 781.1L369.0 779.8L369.6 777.4L370.2 775.1L370.8 774.0L371.4 771.1L372.0 769.2L372.6 767.6L373.2 764.0L373.8 762.4L374.4 760.5L375.0 757.2L375.6 752.6L376.2 748.7L376.8 743.4L377.4 737.3L378.0 732.0L378.6 727.8L379.2 722.7L379.8 717.3L380.4 715.0L381.0 710.0L381.6 704.1L382.2 695.6L382.8 687.1L383.4 678.4L384.0 671.5L384.6 660.6L385.2 652.4L385.8 643.3L386.4 636.1L387.0 628.3L387.6 623.3L388.2 619.1L388.8 613.1L389.4 610.6L390.0 608.2L390.6 606.4L391.2 606.4L391.8 607.8L392.4 610.7L393.0 615.0L393.6 623.6L394.2 634.0L394.8 642.6L395.4 651.8L396.0 661.9L396.6 671.4L397.2 678.7L397.8 687.9L398.4 695.2L399.0 702.1L399.6 709.8L400.2 716.2L400.8 725.5L401.4 732.6L402.0 737.9L402.6 740.6L403.2 742.7L403.8 745.7L404.4 748.0L405.0 751.9L405.6 755.5L406.2 758.6L406.8 761.9L407.4 764.2L408.0 766.4L408.6 766.9L409.2 768.6L409.8 769.1L410.4 771.7L411.0 772.0L411.6 772.7L412.2 775.0L412.8 776.8L413.4 776.3L414.0 777.5L414.6 778.9L415.2 779.9L415.8 781.9L416.4 782.3L417.0 783.3L417.6 784.9L418.2 785.1L418.8 786.5L419.4 786.4L420.0 786.8L420.6 787.3L421.2 790.1L421.8 789.5L422.4 790.0L423.0 790.2L423.6 790.5L424.2 790.9L424.8 792.1L425.4 790.4L426.0 790.1L426.6 790.6L427.2 790.8L427.8 792.5L428.4 792.8L429.0 791.8L429.6 791.7L430.2 792.7L430.8 793.8L431.4 791.4L432.0 793.2L432.6 792.5L433.2 793.5L433.8 792.1L434.4 792.1L435.0 791.1L435.6 791.3L436.2 792.7L436.8 792.2L437.4 791.1L438.0 790.5L438.6 789.8L439.2 790.7L439.8 791.0L440.4 790.9L441.0 790.8L441.6 790.1L442.2 790.6L442.8 790.8L443.4 791.7L444.0 791.9L444.6 790.3L445.2 789.5L445.8 789.7L446.4 789.1L447.0 788.8L447.6 789.0L448.2 788.6L448.8 790.0L449.4 790.3L450.0 791.4L450.6 792.0L451.2 792.7L451.8 793.5L452.4 794.8L453.0 795.3L453.6 796.4L454.2 796.9L454.8 796.7L455.4 798.1L456.0 797.9L456.6 798.8L457.2 799.4L457.8 798.8L458.4 800.5L459.0 800.8L459.6 800.7L460.2 800.4L460.8 800.4L461.4 799.9L462.0 800.3L462.6 800.1L463.2 800.3L463.8 799.5L464.4 800.3L465.0 800.2L465.6 799.8L466.2 799.6L466.8 800.0L467.4 798.6L468.0 799.8L468.6 799.8L469.2 799.9L469.8 799.9L470.4 799.3L471.0 799.7L471.6 800.5L472.2 800.6L472.8 800.5L473.4 799.7L474.0 801.3L474.6 802.1L475.2 802.3L475.8 801.9L476.4 801.0L477.0 802.8L477.6 802.3L478.2 801.0L478.8 802.9L479.4 802.0L480.0 802.2L480.6 803.0L481.2 804.3L481.8 803.4L482.4 803.8L483.0 804.8L483.6 804.6L484.2 803.3L484.8 802.8L485.4 802.0L486.0 802.3L486.6 802.9L487.2 802.8L487.8 802.5L488.4 802.7L489.0 801.4L489.6 801.5L490.2 801.6L490.8 801.2L491.4 800.9L492.0 799.8L492.6 798.7L493.2 798.4L493.8 796.8L494.4 795.8L495.0 796.7L495.6 796.0L496.2 795.4L496.8 793.5L497.4 793.5L498.0 792.8L498.6 791.7L499.2 790.2L499.8 791.0L500.4 791.4L501.0 790.6L501.6 789.6L502.2 789.7L502.8 789.9L503.4 787.7L504.0 789.5L504.6 790.5L505.2 791.2L505.8 792.3L506.4 792.3L507.0 792.2L507.6 792.6L508.2 793.2L508.8 792.7L509.4 793.4L510.0 794.5L510.6 795.4L511.2 794.3L511.8 794.5L512.4 795.1L513.0 796.2L513.6 795.8L514.2 797.0L514.8 796.1L515.4 797.5L516.0 798.7L516.6 799.9L517.2 799.9L517.8 798.1L518.4 798.4L519.0 799.3L519.6 798.6L520.2 798.1L520.8 799.9L521.4 799.7L522.0 799.6L522.6 799.0L523.2 799.9L523.8 799.2L524.4 799.9L525.0 798.6L525.6 798.5L526.2 799.2L526.8 798.8L527.4 799.7L528.0 799.4L528.6 798.6L529.2 799.1L529.8 799.0L530.4 799.8L531.0 798.8L531.6 798.9L532.2 800.2L532.8 801.1L533.4 800.7L534.0 799.2L534.6 799.2L535.2 799.9L535.8 798.6L536.4 797.8L537.0 798.4L537.6 798.5L538.2 797.3L538.8 796.4L539.4 796.5L540.0 797.8L540.6 796.8L541.2 797.0L541.8 797.1L542.4 797.2L543.0 796.4L543.6 796.6L544.2 795.5L544.8 795.5L545.4 795.0L546.0 796.3L546.6 795.4L547.2 794.6L547.8 794.7L548.4 794.7L549.0 795.0L549.6 793.3L550.2 793.5L550.8 794.2L551.4 796.1L552.0 795.0L552.6 794.0L553.2 794.5L553.8 795.3L554.4 793.6L555.0 793.3L555.6 794.3L556.2 793.8L556.8 793.7L557.4 792.9L558.0 794.5L558.6 794.4L559.2 793.4L559.8 793.0L560.4 791.1L561.0 792.7L561.6 792.3L562.2 792.6L562.8 792.7L563.4 791.7L564.0 790.7L564.6 791.9L565.2 791.2L565.8 791.3L566.4 791.1L567.0 791.0L567.6 789.7L568.2 792.0L568.8 791.6L569.4 792.2L570.0 792.7L570.6 791.0L571.2 789.4L571.8 789.8L572.4 789.7L573.0 790.1L573.6 790.4L574.2 789.0L574.8 790.3L575.4 789.2L576.0 790.3L576.6 790.1L577.2 789.9L577.8 789.9L578.4 789.5L579.0 789.2L579.6 788.5L580.2 789.8L580.8 791.3L581.4 791.4L582.0 790.8L582.6 790.1L583.2 789.1L583.8 790.4L584.4 789.3L585.0 789.1L585.6 788.9L586.2 789.0L586.8 788.6L587.4 788.6L588.0 787.9L588.6 788.5L589.2 790.3L589.8 788.6L590.4 788.2L591.0 788.7L591.6 788.6L592.2 787.2L592.8 787.7L593.4 788.5L594.0 788.0L594.6 787.8L595.2 788.5L595.8 786.9L596.4 787.1L597.0 786.8L597.6 787.8L598.2 785.3L598.8 785.8L599.4 786.1L600.0 786.9L600.6 786.9L601.2 787.1L601.8 784.9L602.4 786.2L603.0 785.5L603.6 785.1L604.2 785.7L604.8 784.5L605.4 783.5L606.0 784.5L606.6 783.7L607.2 784.3L607.8 785.0L608.4 785.1L609.0 785.8L609.6 784.4L610.2 783.1L610.8 783.5L611.4 783.3L612.0 783.2L612.6 784.2L613.2 783.3L613.8 782.4L614.4 784.2L615.0 783.8L615.6 784.0L616.2 783.8L616.8 784.1L617.4 783.7L618.0 784.4L618.6 783.8L619.2 783.7L619.8 783.4L620.4 782.0L621.0 782.8L621.6 782.8L622.2 782.9L622.8 782.0L623.4 783.9L624.0 782.8L624.6 781.5L625.2 781.0L625.8 782.1L626.4 782.2L627.0 781.7L627.6 782.1L628.2 781.7L628.8 782.3L629.4 781.4L630.0 781.8L630.6 782.8L631.2 783.7L631.8 781.0L632.4 780.9L633.0 780.7L633.6 781.7L634.2 780.3L634.8 780.6L635.4 780.8L636.0 780.0L636.6 779.9L637.2 780.0L637.8 778.7L638.4 779.1L639.0 779.9L639.6 780.3L640.2 779.9L640.8 778.6L641.4 779.5L642.0 780.5L642.6 780.3L643.2 779.5L643.8 778.9L644.4 779.8L645.0 778.8L645.6 778.1L646.2 778.4L646.8 780.0L647.4 779.2L648.0 779.6L648.6 778.4L649.2 779.0L649.8 777.8L650.4 778.2L651.0 780.0L651.6 778.6L652.2 777.3L652.8 777.4L653.4 777.7L654.0 778.1L654.6 776.5L655.2 775.3L655.8 776.2L656.4 776.4L657.0 776.5L657.6 777.2L658.2 776.4L658.8 776.4L659.4 774.9L660.0 776.3L660.6 777.2L661.2 776.0L661.8 775.3L662.4 775.2L663.0 776.1L663.6 774.0L664.2 774.3L664.8 774.8L665.4 774.8L666.0 773.9L666.6 774.2L667.2 773.8L667.8 773.9L668.4 773.6L669.0 772.7L669.6 773.6L670.2 774.2L670.8 772.7L671.4 773.2L672.0 773.7L672.6 772.5L673.2 773.1L673.8 772.4L674.4 774.1L675.0 775.2L675.6 774.8L676.2 773.0L676.8 773.4L677.4 772.9L678.0 772.9L678.6 773.8L679.2 771.7L679.8 773.2L680.4 772.6L681.0 773.5L681.6 772.5L682.2 771.7L682.8 772.4L683.4 772.7L684.0 772.2L684.6 772.3L685.2 771.2L685.8 770.0L686.4 772.3L687.0 772.3L687.6 771.7L688.2 771.6L688.8 772.1L689.4 770.9L690.0 770.5L690.6 770.9L691.2 771.7L691.8 769.9L692.4 771.5L693.0 770.1L693.6 769.7L694.2 771.3L694.8 770.2L695.4 769.1L696.0 769.8L696.6 770.8L697.2 770.9L697.8 769.6L698.4 770.0L699.0 770.1L699.6 769.0L700.2 769.5L700.8 769.1L701.4 768.5L702.0 768.5L702.6 768.8L703.2 768.6L703.8 768.0L704.4 768.1L705.0 769.2L705.6 768.5L706.2 768.9L706.8 769.0L707.4 768.6L708.0 769.4L708.6 767.0L709.2 767.8L709.8 767.1L710.4 768.6L711.0 768.1L711.6 765.0L712.2 765.4L712.8 766.7L713.4 766.8L714.0 766.5L714.6 765.7L715.2 765.9L715.8 765.9L716.4 765.2L717.0 765.5L717.6 763.0L718.2 764.8L718.8 763.7L719.4 764.9L720.0 763.9L720.6 763.1L721.2 763.8L721.8 762.7L722.4 762.3L723.0 761.8L723.6 762.9L724.2 763.4L724.8 763.7L725.4 762.7L726.0 763.3L726.6 762.4L727.2 762.2L727.8 762.6L728.4 762.8L729.0 761.5L729.6 761.4L730.2 761.3L730.8 761.3L731.4 760.6L732.0 761.8L732.6 760.8L733.2 761.1L733.8 760.1L734.4 760.8L735.0 760.7L735.6 760.2L736.2 761.9L736.8 760.8L737.4 761.6L738.0 760.7L738.6 759.1L739.2 759.2L739.8 759.7L740.4 759.4L741.0 759.2L741.6 758.6L742.2 757.3L742.8 758.1L743.4 756.7L744.0 758.5L744.6 757.7L745.2 757.5L745.8 757.9L746.4 758.1L747.0 756.5L747.6 756.0L748.2 756.3L748.8 755.5L749.4 756.5L750.0 758.5L750.6 756.5L751.2 757.4L751.8 755.9L752.4 756.9L753.0 756.5L753.6 756.6L754.2 757.2L754.8 758.0L755.4 756.6L756.0 756.2L756.6 755.3L757.2 756.3L757.8 755.7L758.4 756.3L759.0 755.8L759.6 756.7L760.2 753.7L760.8 754.8L761.4 755.7L762.0 754.6L762.6 754.0L763.2 754.1L763.8 753.2L764.4 754.5L765.0 756.4L765.6 755.1L766.2 752.9L766.8 752.8L767.4 753.2L768.0 754.1L768.6 752.5L769.2 752.4L769.8 753.7L770.4 753.5L771.0 752.2L771.6 751.2L772.2 750.6L772.8 751.0L773.4 749.9L774.0 752.0L774.6 751.0L775.2 751.8L775.8 752.9L776.4 752.0L777.0 749.9L777.6 751.2L778.2 751.3L778.8 749.4L779.4 748.9L780.0 749.3L780.6 748.2L781.2 750.1L781.8 746.9L782.4 747.5L783.0 748.2L783.6 748.1L784.2 748.2L784.8 748.1L785.4 747.5L786.0 748.0L786.6 745.3L787.2 746.4L787.8 745.9L788.4 746.3L789.0 746.0L789.6 744.8L790.2 744.8L790.8 745.7L791.4 745.1L792.0 744.2L792.6 746.2L793.2 746.1L793.8 742.6L794.4 743.8L795.0 745.5L795.6 743.9L796.2 742.9L796.8 742.1L797.4 741.6L798.0 741.5L798.6 741.2L799.2 741.9L799.8 740.9L800.4 740.4L801.0 739.6L801.6 740.3L802.2 739.6L802.8 740.1L803.4 741.0L804.0 740.4L804.6 740.3L805.2 740.0L805.8 739.5L806.4 739.1L807.0 738.9L807.6 739.5L808.2 738.1L808.8 739.8L809.4 738.7L810.0 737.7L810.6 737.7L811.2 737.5L811.8 738.0L812.4 737.4L813.0 738.6L813.6 736.8L814.2 735.2L814.8 736.2L815.4 735.2L816.0 736.8L816.6 737.8L817.2 737.2L817.8 735.2L818.4 735.6L819.0 737.6L819.6 736.3L820.2 735.8L820.8 736.6L821.4 737.6L822.0 736.4L822.6 734.9L823.2 734.7L823.8 734.5L824.4 733.1L825.0 732.4L825.6 732.9L826.2 731.9L826.8 732.2L827.4 732.4L828.0 733.8L828.6 730.8L829.2 730.8L829.8 730.6L830.4 730.8L831.0 730.9L831.6 729.2L832.2 728.3L832.8 727.2L833.4 727.6L834.0 728.6L834.6 727.8L835.2 726.5L835.8 726.6L836.4 726.7L837.0 726.7L837.6 725.3L838.2 724.9L838.8 723.2L839.4 723.4L840.0 725.1L840.6 721.7L841.2 722.5L841.8 722.6L842.4 721.5L843.0 720.6L843.6 720.7L844.2 720.2L844.8 719.3L845.4 717.3L846.0 718.0L846.6 716.9L847.2 716.6L847.8 716.8L848.4 716.7L849.0 716.2L849.6 714.6L850.2 715.1L850.8 714.9L851.4 714.3L852.0 713.8L852.6 711.8L853.2 711.1L853.8 711.1L854.4 708.8L855.0 709.3L855.6 708.2L856.2 707.5L856.8 705.7L857.4 705.8L858.0 706.3L858.6 706.6L859.2 706.1L859.8 704.6L860.4 703.7L861.0 702.6L861.6 703.0L862.2 702.0L862.8 702.3L863.4 702.7L864.0 700.4L864.6 698.4L865.2 698.2L865.8 697.2L866.4 697.2L867.0 699.0L867.6 697.6L868.2 695.7L868.8 697.3L869.4 697.6L870.0 695.7L870.6 695.0L871.2 695.0L871.8 695.4L872.4 695.5L873.0 695.8L873.6 695.6L874.2 695.4L874.8 695.2L875.4 694.1L876.0 691.9L876.6 692.8L877.2 693.1L877.8 692.4L878.4 693.2L879.0 691.9L879.6 691.3L880.2 693.2L880.8 692.5L881.4 691.9L882.0 692.4L882.6 692.4L883.2 691.4L883.8 688.8L884.4 690.2L885.0 690.6L885.6 690.4L886.2 691.7L886.8 692.7L887.4 691.3L888.0 691.0L888.6 693.8L889.2 692.0L889.8 691.3L890.4 692.9L891.0 693.3L891.6 692.7L892.2 694.1L892.8 693.3L893.4 693.1L894.0 694.4L894.6 695.2L895.2 694.3L895.8 695.3L896.4 695.6L897.0 698.2L897.6 695.6L898.2 697.3L898.8 696.5L899.4 696.6L900.0 697.8L900.6 698.4L901.2 699.0L901.8 698.4L902.4 697.7L903.0 698.1L903.6 699.5L904.2 700.1L904.8 701.1L905.4 700.7L906.0 701.5L906.6 702.1L907.2 701.0L907.8 699.5L908.4 699.8L909.0 700.1L909.6 702.8L910.2 701.3L910.8 703.0L911.4 702.9L912.0 704.0L912.6 703.4L913.2 702.4L913.8 702.3L914.4 702.7L915.0 702.9L915.6 702.3L916.2 703.0L916.8 704.4L917.4 701.7L918.0 703.2L918.6 702.5L919.2 703.6L919.8 704.3L920.4 703.7L921.0 704.2L921.6 702.5L922.2 704.7L922.8 703.6L923.4 704.7L924.0 704.2L924.6 701.8L925.2 703.4L925.8 704.9L926.4 706.3L927.0 705.4L927.6 705.1L928.2 704.0L928.8 706.8L929.4 707.5L930.0 706.0L930.6 705.6L931.2 704.7L931.8 707.4L932.4 709.4L933.0 708.0L933.6 708.4L934.2 707.7L934.8 706.6L935.4 708.5L936.0 706.6L936.6 707.5L937.2 708.3L937.8 708.9L938.4 708.6L939.0 708.5L939.6 707.4L940.2 707.0L940.8 708.2L941.4 707.6L942.0 707.0L942.6 707.2L943.2 707.8L943.8 706.7L944.4 707.1L945.0 707.1L945.6 709.0L946.2 709.6L946.8 710.9L947.4 707.8L948.0 708.4L948.6 709.9L949.2 709.0L949.8 709.0L950.4 710.8L951.0 708.9L951.6 707.9L952.2 707.8L952.8 709.3L953.4 709.2L954.0 707.5L954.6 707.7L955.2 709.1L955.8 709.0L956.4 707.7L957.0 708.6L957.6 708.2L958.2 705.8L958.8 706.8L959.4 707.3L960.0 706.0L960.6 704.2L961.2 705.7L961.8 706.8L962.4 707.1L963.0 703.8L963.6 707.4L964.2 704.3L964.8 705.7L965.4 706.0L966.0 705.5L966.6 704.3L967.2 702.9L967.8 704.1L968.4 702.6L969.0 701.1L969.6 705.7L970.2 704.2L970.8 704.5L971.4 702.1L972.0 703.9L972.6 704.1L973.2 703.7L973.8 701.7L974.4 700.3L975.0 700.7L975.6 698.6L976.2 698.9L976.8 700.3L977.4 699.3L978.0 699.8L978.6 699.9L979.2 701.6L979.8 700.8L980.4 699.2L981.0 699.7L981.6 697.6L982.2 697.6L982.8 698.3L983.4 696.0L984.0 696.2L984.6 695.1L985.2 696.2L985.8 697.3L986.4 694.8L987.0 695.0L987.6 693.6L988.2 692.8L988.8 692.6L989.4 695.1L990.0 695.7L990.6 693.4L991.2 691.8L991.8 692.6L992.4 691.6L993.0 692.2L993.6 691.5L994.2 691.1L994.8 690.9L995.4 689.4L996.0 688.9L996.6 687.4L997.2 688.1L997.8 687.0L998.4 687.7L999.0 686.8L999.6 687.4L1000.2 687.2L1000.8 685.1L1001.4 685.0L1002.0 684.7L1002.6 686.1L1003.2 686.7L1003.8 685.3L1004.4 683.8L1005.0 684.6L1005.6 681.7L1006.2 683.6L1006.8 681.0L1007.4 678.8L1008.0 683.3L1008.6 682.1L1009.2 678.9L1009.8 679.1L1010.4 678.3L1011.0 677.8L1011.6 675.7L1012.2 675.8L1012.8 676.3L1013.4 675.6L1014.0 675.8L1014.6 674.3L1015.2 675.4L1015.8 672.0L1016.4 671.6L1017.0 668.9L1017.6 669.0L1018.2 670.6L1018.8 668.0L1019.4 668.4L1020.0 667.0L1020.6 665.2L1021.2 665.0L1021.8 664.2L1022.4 663.6L1023.0 664.3L1023.6 663.6L1024.2 661.9L1024.8 661.2L1025.4 662.1L1026.0 661.8L1026.6 662.9L1027.2 664.3L1027.8 662.3L1028.4 661.0L1029.0 660.5L1029.6 659.6L1030.2 659.3L1030.8 659.2L1031.4 659.8L1032.0 659.9L1032.6 661.0L1033.2 660.0L1033.8 660.0L1034.4 659.5L1035.0 662.3L1035.6 661.8L1036.2 663.1L1036.8 662.6L1037.4 663.2L1038.0 661.9L1038.6 663.3L1039.2 665.3L1039.8 662.1L1040.4 664.5L1041.0 665.7L1041.6 665.1L1042.2 666.1L1042.8 667.3L1043.4 666.4L1044.0 668.1L1044.6 667.9L1045.2 669.0L1045.8 670.2L1046.4 671.7L1047.0 673.1L1047.6 674.2L1048.2 673.8L1048.8 678.2L1049.4 678.8L1050.0 679.3L1050.6 679.3L1051.2 680.6L1051.8 682.3L1052.4 683.0L1053.0 681.9L1053.6 685.2L1054.2 687.7L1054.8 683.9L1055.4 686.7L1056.0 686.8L1056.6 686.9L1057.2 688.5L1057.8 686.6L1058.4 688.2L1059.0 689.9L1059.6 688.6L1060.2 688.4L1060.8 689.1L1061.4 689.0L1062.0 690.9L1062.6 688.9L1063.2 690.3L1063.8 688.6L1064.4 690.3L1065.0 689.5L1065.6 687.1L1066.2 689.5L1066.8 688.8L1067.4 689.7L1068.0 691.6L1068.6 689.1L1069.2 689.2L1069.8 691.8L1070.4 691.0L1071.0 692.3L1071.6 691.1L1072.2 689.9L1072.8 691.0L1073.4 692.7L1074.0 692.7L1074.6 691.9L1075.2 692.0L1075.8 692.1L1076.4 692.1L1077.0 694.8L1077.6 693.1L1078.2 692.0L1078.8 692.9L1079.4 694.5L1080.0 694.6L1080.6 693.8L1081.2 693.3L1081.8 693.8L1082.4 692.1L1083.0 692.6L1083.6 694.7L1084.2 693.7L1084.8 694.5L1085.4 695.5L1086.0 694.8L1086.6 694.3L1087.2 696.3L1087.8 694.8L1088.4 693.6L1089.0 694.5L1089.6 694.1L1090.2 692.7L1090.8 693.4L1091.4 693.0L1092.0 691.1L1092.6 692.7L1093.2 692.7L1093.8 692.2L1094.4 690.9L1095.0 691.9L1095.6 692.3L1096.2 692.1L1096.8 690.7L1097.4 692.0L1098.0 690.1L1098.6 690.9L1099.2 692.2L1099.8 690.0L1100.4 689.9L1101.0 691.2L1101.6 689.7L1102.2 689.4L1102.8 690.0L1103.4 690.3L1104.0 686.9L1104.6 687.8L1105.2 687.7L1105.8 687.5L1106.4 687.6L1107.0 687.7L1107.6 688.7L1108.2 687.6L1108.8 688.5L1109.4 688.7L1110.0 687.5L1110.6 688.4L1111.2 689.9L1111.8 688.4L1112.4 687.2L1113.0 687.5L1113.6 686.7L1114.2 687.8L1114.8 688.3L1115.4 686.5L1116.0 687.0L1116.6 688.2L1117.2 686.6L1117.8 686.8L1118.4 685.4L1119.0 685.4L1119.6 685.9L1120.2 688.3L1120.8 685.6L1121.4 684.8L1122.0 684.6L1122.6 684.8L1123.2 685.4L1123.8 685.0L1124.4 686.4L1125.0 684.5L1125.6 685.2L1126.2 683.9L1126.8 683.6L1127.4 681.5L1128.0 682.5L1128.6 682.6L1129.2 682.1L1129.8 680.3L1130.4 683.1L1131.0 682.1L1131.6 681.8L1132.2 682.0L1132.8 682.0L1133.4 682.5L1134.0 680.7L1134.6 681.0L1135.2 682.3L1135.8 682.2L1136.4 681.5L1137.0 681.2L1137.6 680.9L1138.2 681.8L1138.8 683.0L1139.4 681.0L1140.0 683.4L1140.6 682.8L1141.2 681.4L1141.8 682.2L1142.4 679.9L1143.0 679.3L1143.6 679.8L1144.2 680.8L1144.8 681.0L1145.4 680.8L1146.0 681.1L1146.6 679.0L1147.2 681.3L1147.8 679.6L1148.4 680.1L1149.0 680.4L1149.6 679.5L1150.2 679.1L1150.8 679.6L1151.4 680.8L1152.0 681.5L1152.6 681.3L1153.2 679.5L1153.8 679.4L1154.4 679.5L1155.0 680.5L1155.6 678.4L1156.2 681.3L1156.8 679.8L1157.4 679.3L1158.0 680.5L1158.6 681.3L1159.2 680.6L1159.8 681.1L1160.4 680.3L1161.0 681.3L1161.6 681.2L1162.2 679.9L1162.8 681.1L1163.4 679.8L1164.0 679.3L1164.6 678.2L1165.2 678.8L1165.8 679.7L1166.4 677.7L1167.0 679.5L1167.6 679.3L1168.2 678.7L1168.8 676.2L1169.4 678.1L1170.0 678.9L1170.6 677.5L1171.2 677.7L1171.8 675.4L1172.4 678.1L1173.0 677.1L1173.6 678.1L1174.2 675.5L1174.8 677.7L1175.4 677.0L1176.0 677.6L1176.6 675.7L1177.2 676.0L1177.8 678.7L1178.4 675.5L1179.0 675.1L1179.6 675.3L1180.2 674.7L1180.8 677.0L1181.4 677.4L1182.0 674.4L1182.6 673.2L1183.2 676.1L1183.8 676.2L1184.4 675.8L1185.0 675.7L1185.6 673.4L1186.2 673.6L1186.8 672.2L1187.4 672.2L1188.0 674.5L1188.6 673.2L1189.2 675.9L1189.8 673.5L1190.4 672.5L1191.0 674.0L1191.6 675.0L1192.2 673.2L1192.8 671.2L1193.4 672.7L1194.0 673.7L1194.6 671.5L1195.2 671.1L1195.8 672.8L1196.4 671.7L1197.0 670.1L1197.6 670.6L1198.2 670.3L1198.8 671.2L1199.4 671.2L1200.0 672.1L1200.6 671.3L1201.2 668.9L1201.8 670.7L1202.4 671.4L1203.0 671.0L1203.6 671.2L1204.2 669.4L1204.8 668.9L1205.4 670.6L1206.0 668.4L1206.6 667.2L1207.2 670.4L1207.8 668.9L1208.4 668.9L1209.0 667.7L1209.6 667.6L1210.2 667.8L1210.8 668.8L1211.4 669.3L1212.0 666.8L1212.6 669.6L1213.2 667.8L1213.8 667.8L1214.4 669.7L1215.0 668.9L1215.6 667.5L1216.2 670.7L1216.8 668.3L1217.4 669.1L1218.0 669.3L1218.6 670.4L1219.2 668.6L1219.8 669.7L1220.4 668.2L1221.0 669.7L1221.6 667.9L1222.2 668.3L1222.8 670.7L1223.4 669.1L1224.0 668.9L1224.6 671.0L1225.2 668.9L1225.8 667.4L1226.4 668.7L1227.0 667.0L1227.6 669.3L1228.2 669.4L1228.8 667.2L1229.4 667.0L1230.0 667.8L1230.6 667.5L1231.2 666.4L1231.8 667.6L1232.4 664.9L1233.0 666.3L1233.6 666.5L1234.2 666.6L1234.8 667.0L1235.4 665.4L1236.0 667.1L1236.6 666.2L1237.2 665.4L1237.8 664.4L1238.4 664.6L1239.0 666.0L1239.6 664.7L1240.2 665.7L1240.8 666.8L1241.4 666.8L1242.0 667.0L1242.6 664.7L1243.2 663.6L1243.8 665.6L1244.4 665.0L1245.0 665.4L1245.6 664.1L1246.2 664.8L1246.8 664.1L1247.4 663.4L1248.0 662.7L1248.6 662.2L1249.2 661.7L1249.8 661.6L1250.4 662.2L1251.0 660.8L1251.6 662.9L1252.2 661.2L1252.8 662.0L1253.4 660.9L1254.0 660.9L1254.6 663.1L1255.2 660.6L1255.8 659.2L1256.4 659.7L1257.0 660.6L1257.6 663.3L1258.2 661.4L1258.8 661.7L1259.4 659.7L1260.0 661.1L1260.6 661.8L1261.2 662.7L1261.8 660.2L1262.4 661.2L1263.0 660.8L1263.6 659.4L1264.2 660.2L1264.8 659.6L1265.4 657.4L1266.0 660.3L1266.6 660.2L1267.2 658.6L1267.8 657.5L1268.4 660.2L1269.0 659.0L1269.6 659.4L1270.2 659.4L1270.8 657.1L1271.4 658.0L1272.0 656.8L1272.6 656.7L1273.2 656.6L1273.8 656.8L1274.4 657.9L1275.0 656.8L1275.6 656.3L1276.2 656.2L1276.8 656.6L1277.4 655.3L1278.0 655.6L1278.6 656.1L1279.2 655.6L1279.8 655.9L1280.4 655.8L1281.0 658.7L1281.6 658.1L1282.2 656.9L1282.8 656.5L1283.4 658.7L1284.0 656.8L1284.6 656.1L1285.2 656.5L1285.8 656.7L1286.4 657.7L1287.0 656.5L1287.6 658.3L1288.2 655.3L1288.8 656.5L1289.4 655.1L1290.0 657.8L1290.6 655.7L1291.2 655.8L1291.8 657.0L1292.4 657.2L1293.0 654.5L1293.6 654.8L1294.2 653.9L1294.8 655.4L1295.4 655.3L1296.0 654.9L1296.6 654.4L1297.2 654.6L1297.8 654.3L1298.4 655.8L1299.0 656.6L1299.6 652.9L1300.2 654.4L1300.8 654.3L1301.4 655.1L1302.0 653.5L1302.6 654.0L1303.2 653.2L1303.8 655.0L1304.4 654.4L1305.0 654.0L1305.6 654.4L1306.2 653.4L1306.8 652.0L1307.4 654.2L1308.0 654.0L1308.6 653.4L1309.2 654.7L1309.8 654.6L1310.4 651.9L1311.0 652.1L1311.6 654.8L1312.2 654.6L1312.8 651.8L1313.4 650.9L1314.0 651.3L1314.6 651.3L1315.2 650.1L1315.8 651.5L1316.4 650.0L1317.0 650.0L1317.6 652.2L1318.2 650.5L1318.8 650.9L1319.4 651.7L1320.0 651.6L1320.6 650.2L1321.2 650.1L1321.8 649.3L1322.4 651.9L1323.0 650.5L1323.6 648.2L1324.2 649.2L1324.8 650.0L1325.4 649.8L1326.0 651.1L1326.6 650.3L1327.2 647.8L1327.8 647.7L1328.4 646.3L1329.0 647.8L1329.6 648.1L1330.2 650.6L1330.8 647.3L1331.4 644.3L1332.0 645.6L1332.6 646.4L1333.2 644.7L1333.8 644.8L1334.4 645.4L1335.0 646.0L1335.6 645.2L1336.2 644.2L1336.8 645.7L1337.4 644.1L1338.0 643.6L1338.6 642.5L1339.2 643.1L1339.8 644.4L1340.4 641.9L1341.0 643.4L1341.6 644.3L1342.2 643.0L1342.8 643.3L1343.4 642.1L1344.0 644.7L1344.6 644.7L1345.2 643.3L1345.8 640.8L1346.4 641.7L1347.0 644.4L1347.6 645.4L1348.2 643.9L1348.8 644.6L1349.4 642.5L1350.0 642.8L1350.6 643.1L1351.2 643.4L1351.8 641.4L1352.4 644.2L1353.0 644.7L1353.6 641.7L1354.2 641.3L1354.8 643.2L1355.4 642.0L1356.0 640.2L1356.6 643.7L1357.2 643.3L1357.8 642.9L1358.4 645.6L1359.0 643.5L1359.6 642.2L1360.2 642.9L1360.8 641.7L1361.4 642.1L1362.0 643.4L1362.6 642.4L1363.2 642.7L1363.8 645.2L1364.4 644.5L1365.0 644.2L1365.6 643.8L1366.2 643.9L1366.8 644.8L1367.4 643.4L1368.0 645.0L1368.6 642.0L1369.2 642.2L1369.8 641.0L1370.4 642.2L1371.0 643.6L1371.6 644.5L1372.2 642.1L1372.8 642.5L1373.4 642.1L1374.0 641.4L1374.6 641.0L1375.2 642.1L1375.8 640.4L1376.4 642.3L1377.0 642.3L1377.6 641.4L1378.2 640.7L1378.8 640.7L1379.4 644.1L1380.0 641.0L1380.6 643.9L1381.2 643.0L1381.8 641.5L1382.4 640.6L1383.0 643.3L1383.6 644.0L1384.2 640.9L1384.8 641.4L1385.4 643.0L1386.0 642.5L1386.6 644.0L1387.2 641.2L1387.8 641.8L1388.4 640.2L1389.0 643.5L1389.6 640.2L1390.2 638.2L1390.8 640.5L1391.4 641.0L1392.0 643.1L1392.6 640.6L1393.2 640.6L1393.8 641.5L1394.4 642.4L1395.0 640.6L1395.6 641.5L1396.2 640.8L1396.8 639.7L1397.4 639.9L1398.0 639.6L1398.6 638.7L1399.2 640.6L1399.8 638.0L1400.4 640.6L1401.0 640.4L1401.6 638.7L1402.2 637.6L1402.8 638.0L1403.4 638.8L1404.0 638.9L1404.6 638.2L1405.2 638.4L1405.8 636.4L1406.4 636.6L1407.0 634.6L1407.6 636.9L1408.2 636.2L1408.8 635.4L1409.4 637.1L1410.0 636.0L1410.6 631.9L1411.2 634.6L1411.8 633.5L1412.4 636.5L1413.0 638.1L1413.6 634.6L1414.2 634.7L1414.8 634.4L1415.4 635.0L1416.0 635.5L1416.6 635.9L1417.2 633.5L1417.8 635.9L1418.4 633.3L1419.0 634.5L1419.6 635.6L1420.2 634.9L1420.8 632.7L1421.4 632.7L1422.0 633.1L1422.6 633.8L1423.2 634.9L1423.8 632.2L1424.4 634.0L1425.0 634.4L1425.6 634.3L1426.2 634.3L1426.8 635.5L1427.4 634.4L1428.0 634.6L1428.6 634.4L1429.2 635.3L1429.8 631.3L1430.4 634.5L1431.0 633.0L1431.6 632.6L1432.2 631.6L1432.8 630.6L1433.4 632.2L1434.0 632.3L1434.6 633.4L1435.2 631.5L1435.8 634.7L1436.4 633.6L1437.0 632.7L1437.6 632.0L1438.2 631.7L1438.8 631.4L1439.4 632.1L1440.0 632.9L1440.6 632.5L1441.2 631.1L1441.8 632.2L1442.4 631.8L1443.0 633.3L1443.6 635.4L1444.2 633.9L1444.8 632.3L1445.4 630.5L1446.0 630.5L1446.6 630.5L1447.2 633.3L1447.8 631.9L1448.4 632.5L1449.0 631.9L1449.6 632.8L1450.2 634.2L1450.8 631.8L1451.4 631.8L1452.0 631.4L1452.6 633.1L1453.2 630.8L1453.8 630.3L1454.4 629.8L1455.0 630.0L1455.6 632.6L1456.2 634.9L1456.8 630.9L1457.4 632.5L1458.0 631.6L1458.6 629.8L1459.2 630.5L1459.8 630.5L1460.4 630.2L1461.0 632.8L1461.6 628.5L1462.2 630.7L1462.8 630.7L1463.4 629.5L1464.0 630.3L1464.6 631.1L1465.2 630.2L1465.8 630.4L1466.4 630.2L1467.0 627.2L1467.6 631.3L1468.2 632.5L1468.8 630.8L1469.4 630.1L1470.0 627.1L1470.6 628.1L1471.2 627.3L1471.8 627.6L1472.4 629.2L1473.0 627.1L1473.6 627.3L1474.2 625.2L1474.8 627.1L1475.4 627.4L1476.0 626.2L1476.6 626.4L1477.2 629.1L1477.8 625.4L1478.4 625.0L1479.0 625.5L1479.6 628.1L1480.2 629.2L1480.8 626.8L1481.4 625.1L1482.0 625.4L1482.6 626.9L1483.2 624.9L1483.8 627.5L1484.4 627.5L1485.0 625.8L1485.6 626.3L1486.2 626.5L1486.8 627.1L1487.4 624.1L1488.0 626.2L1488.6 624.4L1489.2 623.7L1489.8 624.7L1490.4 624.2L1491.0 623.0L1491.6 622.1L1492.2 623.1L1492.8 626.4L1493.4 627.1L1494.0 625.5L1494.6 625.7L1495.2 623.5L1495.8 623.8L1496.4 624.1L1497.0 622.3L1497.6 622.3L1498.2 623.6L1498.8 623.0L1499.4 622.1L1500.0 623.7L1500.6 623.2L1501.2 624.5L1501.8 623.3L1502.4 622.7L1503.0 623.1L1503.6 622.6L1504.2 621.9L1504.8 622.3L1505.4 623.7L1506.0 623.8L1506.6 624.0L1507.2 620.4L1507.8 621.5L1508.4 621.7L1509.0 622.3L1509.6 621.5L1510.2 621.4L1510.8 623.0L1511.4 622.1L1512.0 620.5L1512.6 623.5L1513.2 623.1L1513.8 621.1L1514.4 622.4L1515.0 620.7L1515.6 622.6L1516.2 621.0L1516.8 620.0L1517.4 620.3L1518.0 619.9L1518.6 621.0L1519.2 621.0L1519.8 620.7L1520.4 619.2L1521.0 615.6L1521.6 619.6L1522.2 617.9L1522.8 620.4L1523.4 621.7L1524.0 620.5L1524.6 619.4L1525.2 619.5L1525.8 619.4L1526.4 618.8L1527.0 618.5L1527.6 618.3L1528.2 620.7L1528.8 619.5L1529.4 620.3L1530.0 618.8L1530.6 618.9L1531.2 618.6L1531.8 619.3L1532.4 619.7L1533.0 618.7L1533.6 617.3L1534.2 617.3L1534.8 620.0L1535.4 617.7L1536.0 617.6L1536.6 619.7L1537.2 619.3L1537.8 618.2L1538.4 617.2L1539.0 620.2L1539.6 618.0L1540.2 617.6L1540.8 616.3L1541.4 614.4L1542.0 614.4L1542.6 616.6L1543.2 616.6L1543.8 615.5L1544.4 614.0L1545.0 613.5L1545.6 614.6L1546.2 613.5L1546.8 616.3L1547.4 617.2L1548.0 619.0L1548.6 616.2L1549.2 613.7L1549.8 612.5L1550.4 609.3L1551.0 612.5L1551.6 613.5L1552.2 614.8L1552.8 614.2L1553.4 613.8L1554.0 613.1L1554.6 613.6L1555.2 614.0L1555.8 610.7L1556.4 610.7L1557.0 609.8L1557.6 613.4L1558.2 613.2L1558.8 611.9L1559.4 609.3L1560.0 610.6L1560.6 610.3L1561.2 610.5L1561.8 610.3L1562.4 611.0L1563.0 610.1L1563.6 611.5L1564.2 610.8L1564.8 610.1L1565.4 610.2L1566.0 610.0L1566.6 611.5L1567.2 610.5L1567.8 611.0L1568.4 610.1L1569.0 609.0L1569.4 612.0" fill="none" stroke="#000" stroke-width="2.7" stroke-linejoin="round"/>
<path d="M133.2 973.9L133.8 974.1L134.4 972.9L135.0 970.7L135.6 969.5L136.2 968.2L136.8 966.0L137.4 963.5L138.0 961.5L138.6 957.6L139.2 952.5L139.8 945.7L140.4 939.1L141.0 929.0L141.6 919.4L142.2 914.7L142.8 913.6L143.4 912.7L144.0 912.2L144.6 912.9L145.2 913.3L145.8 913.3L146.4 914.4L147.0 920.9L147.6 929.9L148.2 936.1L148.8 943.9L149.4 951.8L150.0 958.3L150.6 967.7L151.2 975.7L151.8 982.8L152.4 985.4L153.0 987.6L153.6 989.9L154.2 992.1L154.8 993.9L155.4 996.0L156.0 997.3L156.6 1000.0L157.2 1003.2L157.8 1007.3L158.4 1010.8L159.0 1014.6L159.6 1018.4L160.2 1021.1L160.8 1023.8L161.4 1025.7L162.0 1027.0L162.6 1028.7L163.2 1030.1L163.8 1031.3L164.4 1032.2L165.0 1032.5L165.6 1032.7L166.2 1034.0L166.8 1034.1L167.4 1035.6L168.0 1035.9L168.6 1035.6L169.2 1037.2L169.8 1038.2L170.4 1039.3L171.0 1041.6L171.6 1043.0L172.2 1042.7L172.8 1044.3L173.4 1044.6L174.0 1045.1L174.6 1045.7L175.2 1045.2L175.8 1045.3L176.4 1045.3L177.0 1045.2L177.6 1045.2L178.2 1044.2L178.8 1044.0L179.4 1044.5L180.0 1043.8L180.6 1043.4L181.2 1041.8L181.8 1041.7L182.4 1041.4L183.0 1041.2L183.6 1040.6L184.2 1041.0L184.8 1040.2L185.4 1040.0L186.0 1039.8L186.6 1039.8L187.2 1039.1L187.8 1039.5L188.4 1038.8L189.0 1038.2L189.6 1037.5L190.2 1037.0L190.8 1036.5L191.4 1035.5L192.0 1034.4L192.6 1033.7L193.2 1032.6L193.8 1032.3L194.4 1030.7L195.0 1028.9L195.6 1029.7L196.2 1028.3L196.8 1026.8L197.4 1026.3L198.0 1025.3L198.6 1026.0L199.2 1024.3L199.8 1022.4L200.4 1022.4L201.0 1021.2L201.6 1021.1L202.2 1018.2L202.8 1015.9L203.4 1015.2L204.0 1013.3L204.6 1011.4L205.2 1009.3L205.8 1009.6L206.4 1009.3L207.0 1006.8L207.6 1007.4L208.2 1006.2L208.8 1007.2L209.4 1006.2L210.0 1006.0L210.6 1006.9L211.2 1007.0L211.8 1006.8L212.4 1007.6L213.0 1006.8L213.6 1005.8L214.2 1006.8L214.8 1004.6L215.4 1003.0L216.0 1001.9L216.6 999.4L217.2 997.5L217.8 995.6L218.4 992.9L219.0 990.3L219.6 987.8L220.2 983.9L220.8 980.8L221.4 977.2L222.0 972.5L222.6 969.2L223.2 965.0L223.8 962.1L224.4 957.9L225.0 953.6L225.6 949.0L226.2 945.9L226.8 941.9L227.4 939.0L228.0 935.1L228.6 931.3L229.2 928.9L229.8 925.4L230.4 921.0L231.0 918.0L231.6 914.1L232.2 912.0L232.8 911.8L233.4 911.4L234.0 911.5L234.6 911.8L235.2 912.8L235.8 913.0L236.4 913.0L237.0 915.1L237.6 915.9L238.2 917.8L238.8 920.7L239.4 925.2L240.0 932.2L240.6 937.1L241.2 941.3L241.8 945.5L242.4 946.6L243.0 947.8L243.6 947.8L244.2 951.3L244.8 953.3L245.4 956.1L246.0 960.1L246.6 964.4L247.2 966.8L247.8 968.9L248.4 969.4L249.0 970.8L249.6 972.6L250.2 973.2L250.8 973.3L251.4 975.2L252.0 976.2L252.6 976.8L253.2 977.8L253.8 977.3L254.4 976.6L255.0 977.0L255.6 978.4L256.2 976.9L256.8 977.7L257.4 978.0L258.0 977.9L258.6 976.9L259.2 976.7L259.8 976.1L260.4 975.1L261.0 972.9L261.6 971.5L262.2 971.9L262.8 971.5L263.4 970.6L264.0 969.6L264.6 969.7L265.2 969.4L265.8 969.3L266.4 968.1L267.0 968.6L267.6 968.5L268.2 968.8L268.8 971.0L269.4 972.7L270.0 974.2L270.6 976.0L271.2 976.8L271.8 979.2L272.4 981.3L273.0 983.1L273.6 985.1L274.2 985.5L274.8 987.0L275.4 989.7L276.0 991.8L276.6 994.4L277.2 995.2L277.8 996.0L278.4 998.4L279.0 999.2L279.6 1000.7L280.2 1004.5L280.8 1004.9L281.4 1006.2L282.0 1007.1L282.6 1008.4L283.2 1008.3L283.8 1009.1L284.4 1008.3L285.0 1008.8L285.6 1011.1L286.2 1012.2L286.8 1013.0L287.4 1014.6L288.0 1016.7L288.6 1018.6L289.2 1021.8L289.8 1023.2L290.4 1024.7L291.0 1026.4L291.6 1028.3L292.2 1029.7L292.8 1031.1L293.4 1031.5L294.0 1033.8L294.6 1036.0L295.2 1035.7L295.8 1036.9L296.4 1038.6L297.0 1039.6L297.6 1039.9L298.2 1039.4L298.8 1040.9L299.4 1040.6L300.0 1041.3L300.6 1042.6L301.2 1042.9L301.8 1044.3L302.4 1046.4L303.0 1046.0L303.6 1046.6L304.2 1046.6L304.8 1047.3L305.4 1047.8L306.0 1048.5L306.6 1048.6L307.2 1049.2L307.8 1049.7L308.4 1049.6L309.0 1049.6L309.6 1050.0L310.2 1051.5L310.8 1052.1L311.4 1053.3L312.0 1053.9L312.6 1053.8L313.2 1054.6L313.8 1053.8L314.4 1055.9L315.0 1055.4L315.6 1054.4L316.2 1053.8L316.8 1054.5L317.4 1053.3L318.0 1054.0L318.6 1055.3L319.2 1055.6L319.8 1056.1L320.4 1057.6L321.0 1057.3L321.6 1058.3L322.2 1058.1L322.8 1058.0L323.4 1058.8L324.0 1058.3L324.6 1059.9L325.2 1058.8L325.8 1060.0L326.4 1058.4L327.0 1059.0L327.6 1057.9L328.2 1057.6L328.8 1058.3L329.4 1058.4L330.0 1057.1L330.6 1058.0L331.2 1056.8L331.8 1056.9L332.4 1056.9L333.0 1056.6L333.6 1055.1L334.2 1056.7L334.8 1056.0L335.4 1054.9L336.0 1054.1L336.6 1053.3L337.2 1053.3L337.8 1054.1L338.4 1053.4L339.0 1052.6L339.6 1052.8L340.2 1053.9L340.8 1052.7L341.4 1052.5L342.0 1053.7L342.6 1053.4L343.2 1053.2L343.8 1052.9L344.4 1052.6L345.0 1053.1L345.6 1053.9L346.2 1054.5L346.8 1055.1L347.4 1055.4L348.0 1055.3L348.6 1055.1L349.2 1054.0L349.8 1052.8L350.4 1053.1L351.0 1052.3L351.6 1051.7L352.2 1051.1L352.8 1049.8L353.4 1049.3L354.0 1049.5L354.6 1049.4L355.2 1048.9L355.8 1049.6L356.4 1049.1L357.0 1048.7L357.6 1049.4L358.2 1050.5L358.8 1049.2L359.4 1050.2L360.0 1050.5L360.6 1050.4L361.2 1049.2L361.8 1050.7L362.4 1049.7L363.0 1049.3L363.6 1049.4L364.2 1049.9L364.8 1049.6L365.4 1049.4L366.0 1050.1L366.6 1048.7L367.2 1048.3L367.8 1049.2L368.4 1049.0L369.0 1048.8L369.6 1047.3L370.2 1048.0L370.8 1047.5L371.4 1047.7L372.0 1045.4L372.6 1045.4L373.2 1044.2L373.8 1042.4L374.4 1042.0L375.0 1041.9L375.6 1039.9L376.2 1038.5L376.8 1038.4L377.4 1037.6L378.0 1036.4L378.6 1034.3L379.2 1033.7L379.8 1033.3L380.4 1031.2L381.0 1030.0L381.6 1029.8L382.2 1028.8L382.8 1025.4L383.4 1022.6L384.0 1021.1L384.6 1019.1L385.2 1017.0L385.8 1014.5L386.4 1010.9L387.0 1007.3L387.6 1003.7L388.2 998.5L388.8 994.4L389.4 990.6L390.0 990.1L390.6 986.9L391.2 983.7L391.8 981.9L392.4 981.0L393.0 979.8L393.6 980.4L394.2 981.6L394.8 984.2L395.4 985.5L396.0 987.4L396.6 989.3L397.2 992.5L397.8 996.9L398.4 1000.8L399.0 1005.1L399.6 1007.0L400.2 1010.6L400.8 1012.7L401.4 1014.7L402.0 1015.5L402.6 1017.7L403.2 1020.3L403.8 1021.5L404.4 1021.3L405.0 1022.0L405.6 1021.7L406.2 1021.9L406.8 1022.2L407.4 1023.5L408.0 1023.5L408.6 1023.3L409.2 1023.7L409.8 1024.6L410.4 1024.7L411.0 1024.5L411.6 1026.2L412.2 1025.8L412.8 1025.9L413.4 1027.2L414.0 1027.3L414.6 1027.0L415.2 1027.7L415.8 1027.4L416.4 1028.3L417.0 1028.5L417.6 1031.4L418.2 1030.9L418.8 1033.2L419.4 1033.3L420.0 1033.9L420.6 1035.1L421.2 1036.0L421.8 1036.9L422.4 1038.1L423.0 1037.7L423.6 1038.3L424.2 1037.8L424.8 1038.9L425.4 1038.9L426.0 1038.7L426.6 1039.0L427.2 1039.2L427.8 1039.3L428.4 1039.3L429.0 1038.5L429.6 1038.2L430.2 1038.6L430.8 1036.8L431.4 1037.1L432.0 1037.9L432.6 1035.0L433.2 1035.7L433.8 1036.1L434.4 1034.3L435.0 1035.9L435.6 1032.3L436.2 1033.8L436.8 1033.3L437.4 1032.1L438.0 1030.6L438.6 1030.1L439.2 1028.6L439.8 1028.7L440.4 1026.9L441.0 1026.9L441.6 1027.3L442.2 1026.0L442.8 1026.4L443.4 1026.8L444.0 1026.2L444.6 1027.9L445.2 1027.6L445.8 1026.7L446.4 1027.7L447.0 1027.7L447.6 1028.0L448.2 1028.8L448.8 1028.9L449.4 1030.4L450.0 1030.2L450.6 1031.8L451.2 1032.0L451.8 1033.1L452.4 1032.9L453.0 1033.4L453.6 1033.7L454.2 1035.5L454.8 1036.6L455.4 1038.0L456.0 1038.1L456.6 1037.9L457.2 1038.2L457.8 1039.1L458.4 1039.5L459.0 1041.0L459.6 1041.1L460.2 1040.2L460.8 1040.6L461.4 1042.1L462.0 1041.7L462.6 1041.5L463.2 1042.4L463.8 1041.5L464.4 1041.6L465.0 1041.4L465.6 1040.6L466.2 1042.4L466.8 1041.3L467.4 1041.6L468.0 1041.8L468.6 1042.8L469.2 1042.4L469.8 1042.4L470.4 1041.4L471.0 1042.4L471.6 1041.8L472.2 1043.1L472.8 1043.5L473.4 1043.6L474.0 1045.1L474.6 1044.4L475.2 1044.4L475.8 1044.3L476.4 1044.3L477.0 1045.2L477.6 1045.3L478.2 1043.9L478.8 1045.3L479.4 1045.1L480.0 1045.3L480.6 1044.8L481.2 1043.6L481.8 1043.7L482.4 1045.6L483.0 1044.5L483.6 1043.3L484.2 1044.3L484.8 1043.7L485.4 1042.4L486.0 1042.0L486.6 1042.5L487.2 1043.7L487.8 1043.5L488.4 1043.3L489.0 1043.6L489.6 1043.5L490.2 1041.6L490.8 1042.5L491.4 1042.1L492.0 1041.6L492.6 1041.8L493.2 1041.9L493.8 1041.5L494.4 1040.4L495.0 1040.9L495.6 1042.2L496.2 1039.9L496.8 1039.0L497.4 1040.1L498.0 1040.3L498.6 1039.9L499.2 1038.8L499.8 1039.8L500.4 1038.6L501.0 1038.3L501.6 1038.7L502.2 1039.2L502.8 1039.8L503.4 1039.9L504.0 1039.5L504.6 1040.2L505.2 1039.8L505.8 1040.2L506.4 1038.7L507.0 1038.7L507.6 1040.3L508.2 1039.2L508.8 1039.9L509.4 1040.3L510.0 1040.1L510.6 1040.4L511.2 1041.5L511.8 1039.2L512.4 1041.6L513.0 1042.9L513.6 1041.5L514.2 1041.5L514.8 1042.2L515.4 1043.0L516.0 1041.2L516.6 1042.0L517.2 1042.1L517.8 1042.7L518.4 1042.6L519.0 1043.0L519.6 1042.4L520.2 1042.6L520.8 1042.1L521.4 1042.1L522.0 1042.5L522.6 1042.3L523.2 1041.6L523.8 1043.1L524.4 1041.7L525.0 1040.6L525.6 1041.8L526.2 1040.4L526.8 1040.7L527.4 1040.1L528.0 1039.9L528.6 1039.4L529.2 1038.6L529.8 1038.9L530.4 1039.7L531.0 1036.8L531.6 1037.9L532.2 1038.1L532.8 1036.9L533.4 1036.7L534.0 1038.9L534.6 1037.4L535.2 1038.7L535.8 1037.6L536.4 1037.0L537.0 1037.2L537.6 1037.2L538.2 1037.4L538.8 1036.7L539.4 1036.3L540.0 1036.2L540.6 1036.8L541.2 1036.0L541.8 1034.3L542.4 1034.2L543.0 1034.5L543.6 1033.4L544.2 1033.0L544.8 1032.2L545.4 1032.3L546.0 1032.4L546.6 1032.3L547.2 1031.3L547.8 1032.0L548.4 1030.4L549.0 1032.0L549.6 1030.1L550.2 1029.0L550.8 1027.6L551.4 1025.6L552.0 1027.0L552.6 1027.3L553.2 1027.9L553.8 1025.5L554.4 1027.1L555.0 1025.5L555.6 1025.3L556.2 1022.8L556.8 1024.0L557.4 1023.6L558.0 1023.8L558.6 1022.8L559.2 1021.6L559.8 1022.5L560.4 1021.9L561.0 1021.2L561.6 1020.9L562.2 1020.2L562.8 1018.5L563.4 1016.7L564.0 1016.1L564.6 1017.3L565.2 1016.3L565.8 1014.9L566.4 1013.7L567.0 1013.0L567.6 1012.0L568.2 1010.8L568.8 1010.1L569.4 1011.6L570.0 1010.0L570.6 1008.9L571.2 1008.2L571.8 1008.5L572.4 1009.6L573.0 1009.5L573.6 1008.7L574.2 1008.6L574.8 1008.1L575.4 1007.5L576.0 1008.9L576.6 1008.3L577.2 1009.1L577.8 1006.5L578.4 1006.4L579.0 1006.7L579.6 1005.5L580.2 1004.4L580.8 1004.6L581.4 1005.4L582.0 1005.7L582.6 1005.6L583.2 1006.5L583.8 1006.6L584.4 1006.3L585.0 1006.1L585.6 1006.2L586.2 1007.0L586.8 1007.8L587.4 1007.8L588.0 1008.7L588.6 1008.9L589.2 1008.9L589.8 1010.2L590.4 1012.4L591.0 1013.1L591.6 1014.5L592.2 1014.2L592.8 1015.4L593.4 1016.4L594.0 1016.7L594.6 1016.2L595.2 1017.1L595.8 1018.0L596.4 1018.1L597.0 1020.0L597.6 1021.3L598.2 1021.5L598.8 1024.0L599.4 1023.4L600.0 1024.1L600.6 1024.6L601.2 1024.9L601.8 1026.2L602.4 1026.7L603.0 1028.3L603.6 1028.1L604.2 1028.3L604.8 1028.0L605.4 1027.5L606.0 1028.7L606.6 1028.7L607.2 1030.2L607.8 1030.1L608.4 1031.5L609.0 1031.2L609.6 1031.4L610.2 1031.2L610.8 1031.4L611.4 1032.0L612.0 1032.3L612.6 1031.4L613.2 1032.6L613.8 1034.2L614.4 1032.4L615.0 1032.1L615.6 1031.8L616.2 1031.4L616.8 1033.4L617.4 1032.8L618.0 1033.1L618.6 1034.4L619.2 1034.8L619.8 1032.4L620.4 1033.6L621.0 1033.5L621.6 1033.3L622.2 1033.3L622.8 1033.1L623.4 1034.3L624.0 1033.6L624.6 1033.4L625.2 1034.1L625.8 1033.9L626.4 1033.5L627.0 1033.5L627.6 1034.5L628.2 1033.6L628.8 1032.9L629.4 1032.2L630.0 1032.5L630.6 1032.0L631.2 1032.8L631.8 1032.8L632.4 1031.1L633.0 1032.6L633.6 1033.2L634.2 1032.7L634.8 1031.9L635.4 1033.3L636.0 1031.9L636.6 1031.2L637.2 1031.3L637.8 1032.2L638.4 1033.1L639.0 1033.1L639.6 1032.2L640.2 1030.9L640.8 1031.1L641.4 1030.9L642.0 1031.3L642.6 1030.1L643.2 1031.5L643.8 1031.9L644.4 1031.3L645.0 1031.5L645.6 1030.3L646.2 1029.7L646.8 1030.5L647.4 1031.9L648.0 1031.8L648.6 1030.7L649.2 1031.6L649.8 1030.7L650.4 1031.8L651.0 1031.0L651.6 1030.2L652.2 1030.9L652.8 1029.6L653.4 1029.2L654.0 1028.8L654.6 1029.9L655.2 1029.6L655.8 1029.3L656.4 1028.9L657.0 1029.8L657.6 1028.1L658.2 1027.5L658.8 1028.7L659.4 1028.6L660.0 1027.2L660.6 1025.1L661.2 1025.6L661.8 1026.4L662.4 1025.9L663.0 1026.5L663.6 1024.3L664.2 1025.4L664.8 1024.5L665.4 1025.7L666.0 1024.7L666.6 1025.1L667.2 1023.6L667.8 1022.7L668.4 1022.7L669.0 1023.0L669.6 1022.8L670.2 1024.4L670.8 1024.5L671.4 1023.4L672.0 1022.2L672.6 1022.6L673.2 1022.3L673.8 1023.8L674.4 1022.9L675.0 1022.8L675.6 1021.8L676.2 1020.4L676.8 1021.1L677.4 1020.9L678.0 1022.0L678.6 1021.7L679.2 1020.9L679.8 1021.2L680.4 1022.5L681.0 1020.5L681.6 1020.2L682.2 1020.6L682.8 1020.2L683.4 1020.4L684.0 1021.2L684.6 1021.8L685.2 1019.1L685.8 1020.1L686.4 1020.3L687.0 1020.1L687.6 1019.9L688.2 1019.8L688.8 1020.6L689.4 1019.5L690.0 1019.6L690.6 1019.6L691.2 1019.6L691.8 1019.4L692.4 1020.2L693.0 1019.4L693.6 1019.3L694.2 1019.0L694.8 1018.1L695.4 1018.0L696.0 1017.9L696.6 1018.7L697.2 1017.9L697.8 1017.6L698.4 1018.5L699.0 1018.6L699.6 1016.9L700.2 1019.3L700.8 1018.1L701.4 1017.8L702.0 1018.5L702.6 1017.5L703.2 1017.0L703.8 1018.7L704.4 1016.0L705.0 1016.3L705.6 1016.7L706.2 1015.0L706.8 1015.3L707.4 1015.7L708.0 1016.8L708.6 1014.0L709.2 1014.2L709.8 1014.5L710.4 1013.7L711.0 1012.5L711.6 1013.5L712.2 1013.2L712.8 1013.4L713.4 1013.9L714.0 1013.8L714.6 1013.2L715.2 1012.9L715.8 1011.7L716.4 1012.4L717.0 1012.7L717.6 1012.3L718.2 1012.5L718.8 1012.0L719.4 1014.0L720.0 1014.4L720.6 1012.4L721.2 1012.7L721.8 1012.3L722.4 1013.4L723.0 1012.7L723.6 1012.2L724.2 1011.9L724.8 1011.9L725.4 1011.1L726.0 1012.1L726.6 1011.1L727.2 1011.9L727.8 1011.7L728.4 1012.2L729.0 1011.3L729.6 1011.7L730.2 1010.2L730.8 1011.1L731.4 1010.4L732.0 1010.5L732.6 1010.4L733.2 1010.6L733.8 1008.3L734.4 1009.6L735.0 1008.5L735.6 1010.1L736.2 1007.6L736.8 1007.9L737.4 1007.6L738.0 1009.9L738.6 1007.8L739.2 1008.5L739.8 1007.8L740.4 1006.7L741.0 1007.8L741.6 1008.6L742.2 1008.0L742.8 1008.7L743.4 1007.6L744.0 1007.6L744.6 1007.3L745.2 1008.0L745.8 1009.1L746.4 1007.9L747.0 1007.4L747.6 1006.5L748.2 1006.5L748.8 1008.0L749.4 1006.0L750.0 1005.8L750.6 1006.4L751.2 1006.4L751.8 1007.9L752.4 1004.6L753.0 1006.4L753.6 1006.7L754.2 1005.1L754.8 1005.4L755.4 1006.4L756.0 1007.1L756.6 1004.9L757.2 1004.2L757.8 1006.3L758.4 1006.7L759.0 1004.8L759.6 1003.3L760.2 1005.9L760.8 1004.9L761.4 1005.6L762.0 1004.5L762.6 1003.9L763.2 1003.9L763.8 1005.4L764.4 1005.0L765.0 1001.8L765.6 1002.6L766.2 1004.6L766.8 1002.8L767.4 1001.6L768.0 1002.5L768.6 1002.3L769.2 1002.1L769.8 1001.6L770.4 1001.4L771.0 1001.2L771.6 1001.6L772.2 1000.5L772.8 1000.7L773.4 1000.8L774.0 1001.8L774.6 1000.9L775.2 1000.3L775.8 1000.6L776.4 1000.4L777.0 1000.8L777.6 1000.3L778.2 1001.1L778.8 1000.5L779.4 999.0L780.0 998.5L780.6 999.4L781.2 999.0L781.8 998.1L782.4 996.6L783.0 996.1L783.6 997.9L784.2 998.4L784.8 998.0L785.4 996.3L786.0 997.8L786.6 996.6L787.2 997.1L787.8 996.9L788.4 995.7L789.0 995.4L789.6 994.1L790.2 994.8L790.8 994.2L791.4 995.9L792.0 995.8L792.6 996.3L793.2 995.7L793.8 994.7L794.4 995.3L795.0 994.7L795.6 995.3L796.2 994.9L796.8 993.7L797.4 994.3L798.0 994.3L798.6 994.0L799.2 995.0L799.8 995.6L800.4 993.7L801.0 993.1L801.6 991.6L802.2 993.1L802.8 992.8L803.4 991.4L804.0 993.3L804.6 993.6L805.2 992.4L805.8 992.4L806.4 992.0L807.0 993.1L807.6 991.3L808.2 992.3L808.8 994.1L809.4 992.7L810.0 992.7L810.6 992.0L811.2 991.0L811.8 991.9L812.4 992.2L813.0 991.0L813.6 992.1L814.2 993.0L814.8 992.6L815.4 990.2L816.0 990.3L816.6 990.0L817.2 992.3L817.8 992.1L818.4 991.9L819.0 990.4L819.6 990.0L820.2 991.1L820.8 991.0L821.4 990.2L822.0 991.0L822.6 991.4L823.2 990.9L823.8 989.5L824.4 988.5L825.0 990.0L825.6 990.5L826.2 990.0L826.8 989.7L827.4 989.4L828.0 990.5L828.6 989.8L829.2 989.6L829.8 988.5L830.4 988.6L831.0 989.0L831.6 987.8L832.2 987.4L832.8 988.1L833.4 989.3L834.0 988.5L834.6 989.1L835.2 987.5L835.8 986.8L836.4 985.6L837.0 986.3L837.6 987.8L838.2 986.8L838.8 986.8L839.4 986.5L840.0 985.5L840.6 985.0L841.2 985.0L841.8 985.2L842.4 984.8L843.0 984.5L843.6 983.8L844.2 982.6L844.8 982.6L845.4 982.0L846.0 983.1L846.6 980.5L847.2 981.9L847.8 984.0L848.4 981.5L849.0 980.3L849.6 981.2L850.2 982.1L850.8 980.8L851.4 981.0L852.0 980.4L852.6 980.1L853.2 982.7L853.8 980.0L854.4 978.8L855.0 978.7L855.6 979.4L856.2 979.4L856.8 979.5L857.4 978.6L858.0 977.1L858.6 978.6L859.2 977.9L859.8 977.6L860.4 976.5L861.0 977.1L861.6 977.1L862.2 977.5L862.8 976.4L863.4 977.6L864.0 977.7L864.6 976.6L865.2 976.8L865.8 976.8L866.4 978.0L867.0 975.2L867.6 976.7L868.2 975.8L868.8 977.0L869.4 978.1L870.0 976.9L870.6 977.3L871.2 976.8L871.8 979.1L872.4 978.5L873.0 978.2L873.6 976.0L874.2 976.1L874.8 978.0L875.4 977.0L876.0 976.8L876.6 977.1L877.2 975.8L877.8 977.3L878.4 976.8L879.0 976.9L879.6 975.9L880.2 976.7L880.8 975.7L881.4 977.0L882.0 977.2L882.6 976.9L883.2 976.3L883.8 975.9L884.4 973.0L885.0 975.6L885.6 974.9L886.2 974.9L886.8 974.3L887.4 973.1L888.0 973.8L888.6 974.9L889.2 975.3L889.8 973.3L890.4 972.9L891.0 974.6L891.6 972.9L892.2 975.0L892.8 973.1L893.4 972.0L894.0 973.6L894.6 973.9L895.2 971.2L895.8 973.3L896.4 971.9L897.0 973.0L897.6 971.1L898.2 969.8L898.8 971.4L899.4 972.0L900.0 972.9L900.6 972.4L901.2 971.0L901.8 969.7L902.4 969.1L903.0 969.0L903.6 968.4L904.2 968.3L904.8 966.3L905.4 968.4L906.0 968.6L906.6 970.6L907.2 968.8L907.8 967.3L908.4 967.7L909.0 966.0L909.6 966.0L910.2 965.1L910.8 967.8L911.4 967.0L912.0 965.1L912.6 965.9L913.2 966.7L913.8 966.2L914.4 965.8L915.0 964.4L915.6 964.4L916.2 965.1L916.8 965.6L917.4 963.8L918.0 963.4L918.6 965.2L919.2 963.5L919.8 964.9L920.4 964.3L921.0 964.8L921.6 965.4L922.2 964.4L922.8 964.0L923.4 962.2L924.0 962.3L924.6 963.6L925.2 964.4L925.8 964.4L926.4 964.9L927.0 962.9L927.6 962.5L928.2 963.0L928.8 962.1L929.4 961.6L930.0 960.8L930.6 962.3L931.2 960.6L931.8 961.6L932.4 960.1L933.0 961.9L933.6 960.3L934.2 961.5L934.8 959.4L935.4 960.3L936.0 961.7L936.6 960.0L937.2 960.4L937.8 959.7L938.4 958.1L939.0 960.3L939.6 960.5L940.2 959.1L940.8 960.3L941.4 959.1L942.0 958.8L942.6 959.6L943.2 959.3L943.8 961.6L944.4 958.4L945.0 960.1L945.6 960.2L946.2 957.3L946.8 957.4L947.4 959.5L948.0 958.8L948.6 959.5L949.2 960.1L949.8 958.6L950.4 957.5L951.0 956.0L951.6 958.5L952.2 957.9L952.8 958.9L953.4 958.7L954.0 957.4L954.6 960.1L955.2 959.8L955.8 959.2L956.4 957.2L957.0 957.7L957.6 957.6L958.2 957.6L958.8 957.1L959.4 958.5L960.0 958.4L960.6 958.4L961.2 957.7L961.8 959.2L962.4 957.9L963.0 955.1L963.6 956.8L964.2 957.7L964.8 958.5L965.4 957.2L966.0 956.9L966.6 956.5L967.2 957.5L967.8 956.3L968.4 955.8L969.0 955.6L969.6 956.5L970.2 955.2L970.8 953.9L971.4 955.6L972.0 954.4L972.6 955.0L973.2 955.0L973.8 955.5L974.4 955.0L975.0 953.1L975.6 952.9L976.2 951.9L976.8 954.3L977.4 953.2L978.0 953.5L978.6 951.5L979.2 949.7L979.8 952.6L980.4 951.4L981.0 951.1L981.6 950.8L982.2 951.2L982.8 950.7L983.4 948.7L984.0 950.7L984.6 949.2L985.2 949.1L985.8 951.0L986.4 950.1L987.0 948.4L987.6 946.7L988.2 948.4L988.8 948.7L989.4 947.8L990.0 946.4L990.6 946.5L991.2 946.1L991.8 947.4L992.4 948.0L993.0 947.9L993.6 946.1L994.2 946.7L994.8 946.8L995.4 945.7L996.0 946.1L996.6 948.0L997.2 946.3L997.8 946.4L998.4 945.1L999.0 945.1L999.6 943.5L1000.2 945.0L1000.8 946.4L1001.4 947.3L1002.0 946.3L1002.6 945.5L1003.2 944.7L1003.8 943.9L1004.4 944.3L1005.0 944.9L1005.6 943.7L1006.2 945.0L1006.8 943.1L1007.4 942.1L1008.0 942.6L1008.6 942.0L1009.2 942.5L1009.8 944.8L1010.4 943.8L1011.0 944.1L1011.6 945.1L1012.2 945.0L1012.8 943.4L1013.4 944.9L1014.0 944.0L1014.6 943.5L1015.2 943.6L1015.8 941.8L1016.4 942.2L1017.0 943.0L1017.6 943.6L1018.2 942.7L1018.8 942.8L1019.4 944.0L1020.0 944.4L1020.6 943.7L1021.2 943.8L1021.8 942.1L1022.4 941.9L1023.0 942.4L1023.6 941.6L1024.2 941.5L1024.8 943.3L1025.4 941.4L1026.0 940.4L1026.6 941.8L1027.2 943.0L1027.8 941.4L1028.4 941.9L1029.0 940.2L1029.6 939.7L1030.2 939.4L1030.8 940.0L1031.4 941.5L1032.0 938.9L1032.6 940.8L1033.2 938.4L1033.8 938.8L1034.4 939.8L1035.0 939.5L1035.6 938.6L1036.2 936.7L1036.8 938.1L1037.4 937.2L1038.0 940.2L1038.6 937.7L1039.2 937.4L1039.8 935.9L1040.4 936.1L1041.0 935.5L1041.6 937.3L1042.2 936.2L1042.8 936.5L1043.4 935.1L1044.0 935.1L1044.6 936.4L1045.2 933.9L1045.8 932.8L1046.4 934.5L1047.0 933.0L1047.6 933.4L1048.2 934.4L1048.8 932.7L1049.4 933.8L1050.0 932.4L1050.6 934.1L1051.2 933.7L1051.8 931.6L1052.4 931.3L1053.0 930.6L1053.6 931.5L1054.2 932.0L1054.8 929.5L1055.4 931.1L1056.0 929.0L1056.6 928.9L1057.2 928.3L1057.8 931.8L1058.4 930.1L1059.0 929.7L1059.6 928.9L1060.2 930.1L1060.8 927.2L1061.4 929.3L1062.0 931.5L1062.6 929.1L1063.2 929.3L1063.8 929.8L1064.4 928.5L1065.0 929.3L1065.6 930.3L1066.2 929.7L1066.8 929.7L1067.4 929.1L1068.0 929.7L1068.6 929.8L1069.2 931.2L1069.8 930.5L1070.4 929.1L1071.0 927.2L1071.6 930.2L1072.2 930.5L1072.8 928.7L1073.4 927.5L1074.0 928.5L1074.6 930.6L1075.2 928.9L1075.8 929.4L1076.4 930.3L1077.0 931.3L1077.6 930.1L1078.2 929.8L1078.8 929.6L1079.4 931.8L1080.0 931.3L1080.6 929.8L1081.2 928.4L1081.8 929.0L1082.4 930.3L1083.0 929.3L1083.6 930.8L1084.2 930.4L1084.8 930.3L1085.4 930.6L1086.0 930.3L1086.6 928.8L1087.2 929.5L1087.8 931.9L1088.4 928.6L1089.0 929.0L1089.6 930.6L1090.2 929.3L1090.8 928.4L1091.4 927.9L1092.0 929.8L1092.6 930.6L1093.2 930.9L1093.8 929.5L1094.4 930.1L1095.0 928.1L1095.6 928.9L1096.2 928.1L1096.8 928.8L1097.4 929.5L1098.0 929.5L1098.6 927.4L1099.2 929.2L1099.8 927.4L1100.4 926.5L1101.0 926.9L1101.6 925.6L1102.2 926.9L1102.8 927.1L1103.4 926.5L1104.0 926.9L1104.6 925.9L1105.2 925.7L1105.8 924.1L1106.4 925.2L1107.0 924.2L1107.6 924.4L1108.2 924.6L1108.8 924.5L1109.4 922.3L1110.0 922.1L1110.6 923.4L1111.2 924.2L1111.8 924.0L1112.4 924.4L1113.0 924.6L1113.6 923.4L1114.2 922.4L1114.8 921.0L1115.4 920.7L1116.0 921.1L1116.6 921.6L1117.2 921.4L1117.8 920.9L1118.4 920.5L1119.0 921.0L1119.6 920.4L1120.2 920.2L1120.8 919.9L1121.4 918.6L1122.0 918.0L1122.6 919.4L1123.2 919.2L1123.8 918.3L1124.4 918.2L1125.0 920.5L1125.6 917.6L1126.2 917.7L1126.8 918.0L1127.4 916.7L1128.0 918.0L1128.6 919.8L1129.2 919.0L1129.8 918.5L1130.4 918.3L1131.0 917.8L1131.6 918.5L1132.2 917.3L1132.8 916.9L1133.4 917.5L1134.0 918.3L1134.6 917.8L1135.2 917.7L1135.8 915.2L1136.4 918.5L1137.0 920.0L1137.6 918.8L1138.2 916.7L1138.8 916.0L1139.4 917.0L1140.0 915.9L1140.6 917.4L1141.2 916.5L1141.8 917.9L1142.4 918.0L1143.0 914.7L1143.6 916.5L1144.2 915.6L1144.8 914.8L1145.4 915.5L1146.0 916.2L1146.6 917.2L1147.2 914.8L1147.8 917.3L1148.4 918.5L1149.0 917.0L1149.6 916.6L1150.2 915.7L1150.8 914.5L1151.4 916.1L1152.0 916.1L1152.6 916.6L1153.2 918.3L1153.8 916.4L1154.4 915.9L1155.0 916.6L1155.6 913.4L1156.2 913.3L1156.8 914.0L1157.4 913.8L1158.0 915.0L1158.6 914.3L1159.2 916.3L1159.8 916.1L1160.4 915.0L1161.0 913.6L1161.6 914.5L1162.2 914.4L1162.8 912.5L1163.4 913.7L1164.0 914.1L1164.6 913.7L1165.2 915.0L1165.8 914.4L1166.4 912.1L1167.0 912.6L1167.6 911.8L1168.2 912.9L1168.8 911.7L1169.4 913.3L1170.0 912.9L1170.6 913.2L1171.2 911.8L1171.8 910.5L1172.4 913.6L1173.0 912.0L1173.6 913.2L1174.2 912.3L1174.8 912.5L1175.4 913.5L1176.0 912.0L1176.6 912.5L1177.2 909.6L1177.8 911.6L1178.4 910.5L1179.0 910.4L1179.6 910.5L1180.2 910.9L1180.8 911.8L1181.4 908.2L1182.0 909.6L1182.6 909.1L1183.2 910.7L1183.8 909.2L1184.4 909.6L1185.0 908.8L1185.6 909.6L1186.2 909.7L1186.8 907.9L1187.4 907.7L1188.0 906.0L1188.6 907.5L1189.2 907.8L1189.8 906.1L1190.4 907.0L1191.0 903.3L1191.6 902.8L1192.2 903.1L1192.8 903.9L1193.4 904.3L1194.0 904.0L1194.6 903.8L1195.2 904.3L1195.8 902.7L1196.4 901.5L1197.0 901.7L1197.6 904.8L1198.2 900.5L1198.8 902.5L1199.4 904.4L1200.0 903.3L1200.6 901.8L1201.2 902.6L1201.8 903.7L1202.4 903.9L1203.0 901.8L1203.6 903.3L1204.2 903.0L1204.8 903.9L1205.4 904.1L1206.0 902.0L1206.6 900.8L1207.2 902.9L1207.8 904.5L1208.4 903.4L1209.0 903.0L1209.6 904.9L1210.2 901.5L1210.8 903.0L1211.4 901.7L1212.0 902.2L1212.6 902.5L1213.2 903.7L1213.8 901.1L1214.4 901.1L1215.0 900.2L1215.6 902.2L1216.2 901.5L1216.8 902.1L1217.4 900.6L1218.0 901.4L1218.6 902.9L1219.2 901.8L1219.8 902.5L1220.4 902.3L1221.0 901.1L1221.6 899.9L1222.2 902.5L1222.8 902.0L1223.4 902.3L1224.0 899.0L1224.6 898.9L1225.2 898.5L1225.8 900.1L1226.4 902.4L1227.0 902.0L1227.6 901.2L1228.2 901.3L1228.8 901.8L1229.4 900.8L1230.0 901.3L1230.6 900.7L1231.2 898.2L1231.8 900.1L1232.4 902.1L1233.0 900.3L1233.6 900.1L1234.2 899.6L1234.8 899.8L1235.4 901.3L1236.0 899.7L1236.6 898.3L1237.2 896.0L1237.8 898.3L1238.4 896.9L1239.0 897.1L1239.6 900.0L1240.2 899.7L1240.8 896.9L1241.4 899.5L1242.0 899.1L1242.6 897.7L1243.2 898.7L1243.8 896.1L1244.4 896.1L1245.0 895.7L1245.6 896.2L1246.2 898.0L1246.8 895.6L1247.4 895.3L1248.0 895.6L1248.6 896.7L1249.2 896.2L1249.8 897.1L1250.4 895.2L1251.0 894.3L1251.6 895.0L1252.2 895.5L1252.8 894.4L1253.4 895.7L1254.0 897.2L1254.6 894.5L1255.2 894.9L1255.8 896.1L1256.4 893.7L1257.0 893.0L1257.6 892.7L1258.2 894.2L1258.8 894.3L1259.4 893.4L1260.0 893.5L1260.6 894.7L1261.2 893.9L1261.8 891.3L1262.4 892.4L1263.0 892.6L1263.6 893.0L1264.2 891.8L1264.8 891.0L1265.4 890.8L1266.0 889.3L1266.6 890.9L1267.2 890.5L1267.8 891.2L1268.4 889.6L1269.0 889.8L1269.6 889.0L1270.2 889.0L1270.8 890.7L1271.4 889.5L1272.0 890.0L1272.6 888.3L1273.2 889.0L1273.8 887.1L1274.4 888.0L1275.0 888.1L1275.6 889.1L1276.2 888.5L1276.8 888.0L1277.4 888.8L1278.0 888.1L1278.6 888.3L1279.2 888.3L1279.8 887.2L1280.4 886.8L1281.0 887.4L1281.6 886.7L1282.2 887.6L1282.8 888.5L1283.4 888.2L1284.0 886.6L1284.6 885.6L1285.2 886.9L1285.8 887.2L1286.4 888.5L1287.0 887.0L1287.6 887.2L1288.2 888.3L1288.8 887.1L1289.4 887.6L1290.0 889.9L1290.6 889.9L1291.2 888.9L1291.8 888.2L1292.4 887.0L1293.0 888.6L1293.6 888.3L1294.2 888.4L1294.8 887.7L1295.4 888.2L1296.0 888.2L1296.6 889.0L1297.2 890.2L1297.8 888.8L1298.4 886.4L1299.0 886.8L1299.6 886.2L1300.2 887.2L1300.8 888.9L1301.4 888.7L1302.0 887.5L1302.6 888.1L1303.2 886.8L1303.8 885.7L1304.4 885.6L1305.0 886.5L1305.6 888.7L1306.2 886.0L1306.8 888.5L1307.4 888.6L1308.0 886.6L1308.6 886.3L1309.2 885.5L1309.8 886.1L1310.4 886.7L1311.0 886.0L1311.6 886.9L1312.2 887.0L1312.8 885.8L1313.4 885.4L1314.0 884.8L1314.6 884.9L1315.2 883.3L1315.8 884.7L1316.4 884.3L1317.0 883.3L1317.6 886.2L1318.2 882.7L1318.8 882.4L1319.4 883.3L1320.0 880.8L1320.6 881.6L1321.2 880.8L1321.8 881.3L1322.4 882.3L1323.0 882.9L1323.6 883.7L1324.2 883.3L1324.8 883.4L1325.4 882.5L1326.0 881.2L1326.6 882.5L1327.2 880.6L1327.8 880.4L1328.4 882.7L1329.0 881.8L1329.6 881.0L1330.2 881.4L1330.8 881.1L1331.4 878.5L1332.0 879.4L1332.6 878.3L1333.2 879.4L1333.8 878.8L1334.4 880.9L1335.0 879.9L1335.6 878.1L1336.2 878.6L1336.8 877.3L1337.4 878.6L1338.0 879.2L1338.6 878.4L1339.2 875.8L1339.8 877.4L1340.4 878.5L1341.0 878.4L1341.6 878.9L1342.2 876.2L1342.8 877.7L1343.4 876.6L1344.0 877.3L1344.6 877.6L1345.2 877.7L1345.8 876.2L1346.4 876.6L1347.0 875.0L1347.6 874.7L1348.2 876.9L1348.8 876.1L1349.4 874.2L1350.0 874.9L1350.6 876.3L1351.2 878.2L1351.8 877.7L1352.4 877.0L1353.0 874.0L1353.6 875.8L1354.2 876.7L1354.8 876.7L1355.4 876.6L1356.0 876.2L1356.6 878.4L1357.2 878.2L1357.8 876.1L1358.4 875.2L1359.0 878.4L1359.6 875.9L1360.2 877.8L1360.8 878.5L1361.4 875.3L1362.0 876.3L1362.6 875.8L1363.2 876.7L1363.8 876.9L1364.4 878.6L1365.0 877.1L1365.6 876.4L1366.2 877.4L1366.8 875.9L1367.4 876.0L1368.0 878.7L1368.6 875.4L1369.2 875.4L1369.8 875.9L1370.4 874.5L1371.0 873.5L1371.6 876.9L1372.2 875.2L1372.8 875.2L1373.4 875.3L1374.0 874.5L1374.6 874.4L1375.2 876.2L1375.8 878.7L1376.4 877.0L1377.0 876.3L1377.6 873.6L1378.2 874.8L1378.8 873.8L1379.4 875.7L1380.0 874.7L1380.6 874.7L1381.2 874.4L1381.8 873.4L1382.4 872.4L1383.0 874.4L1383.6 872.2L1384.2 872.1L1384.8 873.0L1385.4 872.7L1386.0 873.8L1386.6 874.6L1387.2 873.6L1387.8 873.3L1388.4 873.1L1389.0 873.5L1389.6 870.5L1390.2 872.5L1390.8 871.1L1391.4 870.6L1392.0 871.9L1392.6 871.6L1393.2 872.7L1393.8 872.8L1394.4 868.8L1395.0 871.3L1395.6 873.8L1396.2 872.7L1396.8 872.9L1397.4 871.0L1398.0 868.8L1398.6 869.0L1399.2 871.3L1399.8 871.5L1400.4 869.3L1401.0 869.6L1401.6 869.9L1402.2 867.5L1402.8 869.1L1403.4 871.8L1404.0 872.3L1404.6 869.7L1405.2 871.3L1405.8 868.5L1406.4 867.4L1407.0 866.0L1407.6 869.5L1408.2 868.6L1408.8 871.4L1409.4 869.2L1410.0 868.3L1410.6 866.2L1411.2 869.6L1411.8 867.7L1412.4 867.3L1413.0 865.1L1413.6 868.6L1414.2 868.9L1414.8 866.9L1415.4 867.5L1416.0 868.0L1416.6 868.5L1417.2 867.7L1417.8 869.2L1418.4 866.8L1419.0 866.0L1419.6 865.7L1420.2 863.3L1420.8 865.4L1421.4 867.7L1422.0 866.8L1422.6 865.5L1423.2 866.3L1423.8 863.7L1424.4 865.6L1425.0 866.8L1425.6 866.9L1426.2 865.2L1426.8 867.2L1427.4 868.3L1428.0 865.6L1428.6 866.3L1429.2 863.5L1429.8 862.9L1430.4 866.0L1431.0 865.6L1431.6 865.5L1432.2 864.6L1432.8 864.9L1433.4 866.4L1434.0 867.4L1434.6 864.8L1435.2 863.1L1435.8 866.4L1436.4 866.0L1437.0 865.8L1437.6 865.5L1438.2 867.7L1438.8 865.2L1439.4 865.0L1440.0 862.2L1440.6 863.4L1441.2 863.5L1441.8 864.3L1442.4 864.7L1443.0 863.7L1443.6 866.2L1444.2 863.1L1444.8 863.5L1445.4 864.2L1446.0 862.6L1446.6 864.7L1447.2 864.9L1447.8 864.0L1448.4 866.3L1449.0 864.4L1449.6 864.1L1450.2 862.4L1450.8 861.4L1451.4 862.6L1452.0 863.1L1452.6 863.2L1453.2 864.2L1453.8 860.5L1454.4 861.4L1455.0 861.2L1455.6 864.8L1456.2 862.9L1456.8 862.5L1457.4 862.0L1458.0 864.2L1458.6 862.9L1459.2 863.1L1459.8 860.8L1460.4 864.3L1461.0 863.8L1461.6 863.9L1462.2 864.6L1462.8 862.8L1463.4 862.6L1464.0 863.6L1464.6 863.2L1465.2 862.3L1465.8 862.3L1466.4 861.8L1467.0 863.2L1467.6 863.4L1468.2 862.5L1468.8 864.1L1469.4 860.1L1470.0 861.4L1470.6 863.6L1471.2 860.9L1471.8 859.4L1472.4 862.8L1473.0 861.8L1473.6 859.6L1474.2 861.5L1474.8 859.3L1475.4 858.7L1476.0 860.0L1476.6 859.5L1477.2 858.7L1477.8 859.3L1478.4 858.6L1479.0 859.8L1479.6 859.9L1480.2 860.5L1480.8 858.8L1481.4 857.4L1482.0 857.3L1482.6 858.9L1483.2 861.1L1483.8 860.1L1484.4 858.2L1485.0 859.5L1485.6 857.3L1486.2 859.4L1486.8 858.0L1487.4 859.1L1488.0 858.8L1488.6 857.6L1489.2 857.9L1489.8 856.2L1490.4 857.3L1491.0 859.3L1491.6 862.8L1492.2 858.6L1492.8 857.0L1493.4 855.6L1494.0 857.6L1494.6 854.4L1495.2 855.2L1495.8 856.5L1496.4 855.0L1497.0 858.2L1497.6 857.7L1498.2 855.4L1498.8 854.9L1499.4 853.8L1500.0 853.8L1500.6 856.2L1501.2 856.6L1501.8 856.2L1502.4 855.8L1503.0 854.8L1503.6 855.5L1504.2 853.4L1504.8 855.3L1505.4 857.3L1506.0 857.0L1506.6 854.6L1507.2 854.7L1507.8 857.0L1508.4 857.2L1509.0 853.1L1509.6 854.0L1510.2 855.2L1510.8 856.2L1511.4 853.8L1512.0 855.2L1512.6 854.6L1513.2 857.6L1513.8 855.4L1514.4 854.2L1515.0 854.1L1515.6 855.8L1516.2 855.2L1516.8 853.0L1517.4 854.1L1518.0 852.3L1518.6 852.7L1519.2 852.1L1519.8 852.0L1520.4 852.8L1521.0 852.7L1521.6 854.7L1522.2 855.1L1522.8 853.6L1523.4 852.6L1524.0 854.5L1524.6 851.0L1525.2 851.1L1525.8 854.6L1526.4 855.0L1527.0 855.2L1527.6 853.4L1528.2 852.0L1528.8 852.9L1529.4 854.2L1530.0 852.6L1530.6 852.3L1531.2 851.4L1531.8 851.9L1532.4 854.5L1533.0 854.0L1533.6 851.8L1534.2 851.7L1534.8 852.5L1535.4 853.7L1536.0 851.8L1536.6 852.4L1537.2 850.1L1537.8 851.1L1538.4 853.5L1539.0 854.1L1539.6 851.4L1540.2 851.8L1540.8 853.7L1541.4 852.3L1542.0 852.0L1542.6 853.2L1543.2 853.0L1543.8 854.1L1544.4 853.5L1545.0 851.6L1545.6 851.9L1546.2 851.7L1546.8 849.9L1547.4 850.4L1548.0 852.5L1548.6 849.7L1549.2 852.5L1549.8 851.8L1550.4 851.0L1551.0 851.7L1551.6 851.7L1552.2 852.1L1552.8 849.6L1553.4 848.8L1554.0 848.4L1554.6 850.3L1555.2 848.2L1555.8 845.0L1556.4 844.9L1557.0 844.3L1557.6 845.3L1558.2 846.0L1558.8 848.1L1559.4 843.4L1560.0 846.5L1560.6 846.0L1561.2 844.5L1561.8 845.0L1562.4 844.8L1563.0 845.7L1563.6 846.7L1564.2 844.0L1564.8 847.2L1565.4 845.8L1566.0 848.0L1566.6 847.1L1567.2 848.0L1567.8 847.5L1568.4 848.1L1569.0 846.9L1569.6 846.0L1569.9 847.9" fill="none" stroke="#ff0000" stroke-width="2.7" stroke-linejoin="round"/>
<rect x="132" y="46.1" width="1440.1" height="1061.4" fill="none" stroke="#000" stroke-width="5.9"/>
<path d="M372.0 1107.5V1127.8M672.0 1107.5V1127.8M972.0 1107.5V1127.8M1272.0 1107.5V1127.8M1572.0 1107.5V1127.8M222.0 1107.5V1117.6M522.0 1107.5V1117.6M822.0 1107.5V1117.6M1122.0 1107.5V1117.6M1422.0 1107.5V1117.6" stroke="#000" stroke-width="5.8" fill="none"/>
<g style="font-family:'Liberation Serif','Times New Roman',serif;font-size:56px" fill="#000" text-anchor="middle">
<text x="372.0" y="1185.4">500</text>
<text x="672.0" y="1185.4">1000</text>
<text x="972.0" y="1185.4">1500</text>
<text x="1272.0" y="1185.4">2000</text>
<text x="1572.0" y="1185.4">2500</text>
</g>
<text x="635.3" y="1282" style="font-family:'Liberation Serif','Times New Roman',serif;font-size:55px" fill="#000">Raman Shift <tspan x="925.9">(cm</tspan><tspan x="1008.4" y="1259.8" style="font-size:37.5px">&#8722;1</tspan><tspan x="1050.4" y="1282">)</tspan></text>
<text transform="translate(63.9 738.9) rotate(-90)" x="0" y="0" style="font-family:'Liberation Serif','Times New Roman',serif;font-size:55px" fill="#000">Intensity (a.u.)</text>
<text x="832.1" y="663.1" style="font-family:'Liberation Serif','Times New Roman',serif;font-size:55px;letter-spacing:-1px" fill="#000">1344</text>
<text x="972.1" y="633.2" style="font-family:'Liberation Serif','Times New Roman',serif;font-size:55px;letter-spacing:-1px" fill="#000">1596</text>
<path d="M1047.5 109.3H1170" stroke="#000" stroke-width="2.8"/>
<path d="M1047.5 189.3H1170" stroke="#ff0000" stroke-width="2.9"/>
<text style="font-family:'Liberation Serif','Times New Roman',serif;font-size:55px" fill="#000"><tspan x="1183.2" y="128.0">Bi</tspan><tspan x="1237.1" y="142.9" style="font-size:37.5px">12</tspan><tspan x="1273.8" y="128.0">TiO</tspan><tspan x="1361.2" y="142.9" style="font-size:37.5px">20</tspan><tspan x="1399.2" y="128.0">/RGO</tspan></text>
<text style="font-family:'Liberation Serif','Times New Roman',serif;font-size:55px" fill="#000"><tspan x="1183.2" y="207.9">Bi</tspan><tspan x="1237.1" y="222.8" style="font-size:37.5px">12</tspan><tspan x="1273.8" y="207.9">TiO</tspan><tspan x="1361.2" y="222.8" style="font-size:37.5px">20</tspan></text>
</svg>
</body></html>
